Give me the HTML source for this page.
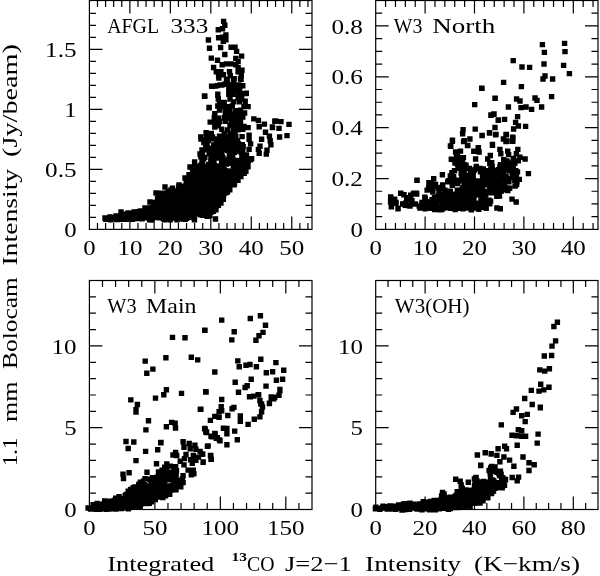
<!DOCTYPE html>
<html><head><meta charset="utf-8"><title>Bolocam vs 13CO intensity</title>
<style>html,body{margin:0;padding:0;background:#fff}body{width:600px;height:576px;overflow:hidden}svg{display:block;will-change:transform}text{font-family:"Liberation Serif", serif;fill:#000}</style>
</head><body>
<svg width="600" height="576" viewBox="0 0 600 576">
<rect width="600" height="576" fill="#fff"/>
<path d="M97.49 229.40v-6.5M97.49 0.50v6.5M105.59 229.40v-6.5M105.59 0.50v6.5M113.68 229.40v-6.5M113.68 0.50v6.5M121.78 229.40v-6.5M121.78 0.50v6.5M129.87 229.40v-13M129.87 0.50v13M137.97 229.40v-6.5M137.97 0.50v6.5M146.06 229.40v-6.5M146.06 0.50v6.5M154.16 229.40v-6.5M154.16 0.50v6.5M162.25 229.40v-6.5M162.25 0.50v6.5M170.35 229.40v-13M170.35 0.50v13M178.44 229.40v-6.5M178.44 0.50v6.5M186.53 229.40v-6.5M186.53 0.50v6.5M194.63 229.40v-6.5M194.63 0.50v6.5M202.72 229.40v-6.5M202.72 0.50v6.5M210.82 229.40v-13M210.82 0.50v13M218.91 229.40v-6.5M218.91 0.50v6.5M227.01 229.40v-6.5M227.01 0.50v6.5M235.10 229.40v-6.5M235.10 0.50v6.5M243.20 229.40v-6.5M243.20 0.50v6.5M251.29 229.40v-13M251.29 0.50v13M259.39 229.40v-6.5M259.39 0.50v6.5M267.48 229.40v-6.5M267.48 0.50v6.5M275.57 229.40v-6.5M275.57 0.50v6.5M283.67 229.40v-6.5M283.67 0.50v6.5M291.76 229.40v-13M291.76 0.50v13M299.86 229.40v-6.5M299.86 0.50v6.5M307.95 229.40v-6.5M307.95 0.50v6.5M89.40 217.40h6.5M312.00 217.40h-6.5M89.40 205.40h6.5M312.00 205.40h-6.5M89.40 193.40h6.5M312.00 193.40h-6.5M89.40 181.40h6.5M312.00 181.40h-6.5M89.40 169.40h13M312.00 169.40h-13M89.40 157.40h6.5M312.00 157.40h-6.5M89.40 145.40h6.5M312.00 145.40h-6.5M89.40 133.40h6.5M312.00 133.40h-6.5M89.40 121.40h6.5M312.00 121.40h-6.5M89.40 109.40h13M312.00 109.40h-13M89.40 97.40h6.5M312.00 97.40h-6.5M89.40 85.40h6.5M312.00 85.40h-6.5M89.40 73.40h6.5M312.00 73.40h-6.5M89.40 61.40h6.5M312.00 61.40h-6.5M89.40 49.40h13M312.00 49.40h-13M89.40 37.40h6.5M312.00 37.40h-6.5M89.40 25.40h6.5M312.00 25.40h-6.5M89.40 13.40h6.5M312.00 13.40h-6.5" fill="none" stroke="#000" stroke-width="1.2"/>
<rect x="89.40" y="0.50" width="222.60" height="228.90" fill="none" stroke="#000" stroke-width="1.2"/>
<text x="89.4" y="255.1" font-size="21.4" text-anchor="middle" textLength="12.4" lengthAdjust="spacingAndGlyphs">0</text>
<text x="129.9" y="255.1" font-size="21.4" text-anchor="middle" textLength="25.0" lengthAdjust="spacingAndGlyphs">10</text>
<text x="170.3" y="255.1" font-size="21.4" text-anchor="middle" textLength="25.0" lengthAdjust="spacingAndGlyphs">20</text>
<text x="210.8" y="255.1" font-size="21.4" text-anchor="middle" textLength="25.0" lengthAdjust="spacingAndGlyphs">30</text>
<text x="251.3" y="255.1" font-size="21.4" text-anchor="middle" textLength="25.0" lengthAdjust="spacingAndGlyphs">40</text>
<text x="291.8" y="255.1" font-size="21.4" text-anchor="middle" textLength="25.0" lengthAdjust="spacingAndGlyphs">50</text>
<text x="76.6" y="237.0" font-size="21.4" text-anchor="end" textLength="12.4" lengthAdjust="spacingAndGlyphs">0</text>
<text x="76.6" y="177.0" font-size="21.4" text-anchor="end" textLength="31.5" lengthAdjust="spacingAndGlyphs">0.5</text>
<text x="76.6" y="117.0" font-size="21.4" text-anchor="end" textLength="12.4" lengthAdjust="spacingAndGlyphs">1</text>
<text x="76.6" y="57.0" font-size="21.4" text-anchor="end" textLength="31.5" lengthAdjust="spacingAndGlyphs">1.5</text>
<text x="107.3" y="32.7" font-size="21.4" textLength="51.7" lengthAdjust="spacingAndGlyphs">AFGL</text>
<text x="170.5" y="32.7" font-size="21.4" textLength="37.8" lengthAdjust="spacingAndGlyphs">333</text>
<path d="M385.58 229.40v-6.5M385.58 0.50v6.5M395.46 229.40v-6.5M395.46 0.50v6.5M405.34 229.40v-6.5M405.34 0.50v6.5M415.22 229.40v-6.5M415.22 0.50v6.5M425.10 229.40v-13M425.10 0.50v13M434.98 229.40v-6.5M434.98 0.50v6.5M444.86 229.40v-6.5M444.86 0.50v6.5M454.74 229.40v-6.5M454.74 0.50v6.5M464.62 229.40v-6.5M464.62 0.50v6.5M474.50 229.40v-13M474.50 0.50v13M484.38 229.40v-6.5M484.38 0.50v6.5M494.26 229.40v-6.5M494.26 0.50v6.5M504.14 229.40v-6.5M504.14 0.50v6.5M514.02 229.40v-6.5M514.02 0.50v6.5M523.90 229.40v-13M523.90 0.50v13M533.78 229.40v-6.5M533.78 0.50v6.5M543.66 229.40v-6.5M543.66 0.50v6.5M553.54 229.40v-6.5M553.54 0.50v6.5M563.42 229.40v-6.5M563.42 0.50v6.5M573.30 229.40v-13M573.30 0.50v13M583.18 229.40v-6.5M583.18 0.50v6.5M593.06 229.40v-6.5M593.06 0.50v6.5M375.70 216.68h6.5M598.00 216.68h-6.5M375.70 203.97h6.5M598.00 203.97h-6.5M375.70 191.25h6.5M598.00 191.25h-6.5M375.70 178.53h13M598.00 178.53h-13M375.70 165.82h6.5M598.00 165.82h-6.5M375.70 153.10h6.5M598.00 153.10h-6.5M375.70 140.38h6.5M598.00 140.38h-6.5M375.70 127.67h13M598.00 127.67h-13M375.70 114.95h6.5M598.00 114.95h-6.5M375.70 102.23h6.5M598.00 102.23h-6.5M375.70 89.52h6.5M598.00 89.52h-6.5M375.70 76.80h13M598.00 76.80h-13M375.70 64.08h6.5M598.00 64.08h-6.5M375.70 51.37h6.5M598.00 51.37h-6.5M375.70 38.65h6.5M598.00 38.65h-6.5M375.70 25.93h13M598.00 25.93h-13M375.70 13.22h6.5M598.00 13.22h-6.5" fill="none" stroke="#000" stroke-width="1.2"/>
<rect x="375.70" y="0.50" width="222.30" height="228.90" fill="none" stroke="#000" stroke-width="1.2"/>
<text x="375.7" y="255.1" font-size="21.4" text-anchor="middle" textLength="12.4" lengthAdjust="spacingAndGlyphs">0</text>
<text x="425.1" y="255.1" font-size="21.4" text-anchor="middle" textLength="25.0" lengthAdjust="spacingAndGlyphs">10</text>
<text x="474.5" y="255.1" font-size="21.4" text-anchor="middle" textLength="25.0" lengthAdjust="spacingAndGlyphs">20</text>
<text x="523.9" y="255.1" font-size="21.4" text-anchor="middle" textLength="25.0" lengthAdjust="spacingAndGlyphs">30</text>
<text x="573.3" y="255.1" font-size="21.4" text-anchor="middle" textLength="25.0" lengthAdjust="spacingAndGlyphs">40</text>
<text x="362.9" y="237.0" font-size="21.4" text-anchor="end" textLength="12.4" lengthAdjust="spacingAndGlyphs">0</text>
<text x="362.9" y="186.1" font-size="21.4" text-anchor="end" textLength="31.5" lengthAdjust="spacingAndGlyphs">0.2</text>
<text x="362.9" y="135.3" font-size="21.4" text-anchor="end" textLength="31.5" lengthAdjust="spacingAndGlyphs">0.4</text>
<text x="362.9" y="84.4" font-size="21.4" text-anchor="end" textLength="31.5" lengthAdjust="spacingAndGlyphs">0.6</text>
<text x="362.9" y="33.5" font-size="21.4" text-anchor="end" textLength="31.5" lengthAdjust="spacingAndGlyphs">0.8</text>
<text x="393.8" y="32.7" font-size="21.4" textLength="28.5" lengthAdjust="spacingAndGlyphs">W3</text>
<text x="432.3" y="32.7" font-size="21.4" textLength="63.0" lengthAdjust="spacingAndGlyphs">North</text>
<path d="M102.49 509.50v-6.5M102.49 280.50v6.5M115.59 509.50v-6.5M115.59 280.50v6.5M128.68 509.50v-6.5M128.68 280.50v6.5M141.78 509.50v-6.5M141.78 280.50v6.5M154.87 509.50v-13M154.87 280.50v13M167.96 509.50v-6.5M167.96 280.50v6.5M181.06 509.50v-6.5M181.06 280.50v6.5M194.15 509.50v-6.5M194.15 280.50v6.5M207.25 509.50v-6.5M207.25 280.50v6.5M220.34 509.50v-13M220.34 280.50v13M233.44 509.50v-6.5M233.44 280.50v6.5M246.53 509.50v-6.5M246.53 280.50v6.5M259.62 509.50v-6.5M259.62 280.50v6.5M272.72 509.50v-6.5M272.72 280.50v6.5M285.81 509.50v-13M285.81 280.50v13M298.91 509.50v-6.5M298.91 280.50v6.5M89.40 493.14h6.5M312.00 493.14h-6.5M89.40 476.79h6.5M312.00 476.79h-6.5M89.40 460.43h6.5M312.00 460.43h-6.5M89.40 444.07h6.5M312.00 444.07h-6.5M89.40 427.71h13M312.00 427.71h-13M89.40 411.36h6.5M312.00 411.36h-6.5M89.40 395.00h6.5M312.00 395.00h-6.5M89.40 378.64h6.5M312.00 378.64h-6.5M89.40 362.29h6.5M312.00 362.29h-6.5M89.40 345.93h13M312.00 345.93h-13M89.40 329.57h6.5M312.00 329.57h-6.5M89.40 313.21h6.5M312.00 313.21h-6.5M89.40 296.86h6.5M312.00 296.86h-6.5" fill="none" stroke="#000" stroke-width="1.2"/>
<rect x="89.40" y="280.50" width="222.60" height="229.00" fill="none" stroke="#000" stroke-width="1.2"/>
<text x="89.4" y="535.2" font-size="21.4" text-anchor="middle" textLength="12.4" lengthAdjust="spacingAndGlyphs">0</text>
<text x="154.9" y="535.2" font-size="21.4" text-anchor="middle" textLength="25.0" lengthAdjust="spacingAndGlyphs">50</text>
<text x="220.3" y="535.2" font-size="21.4" text-anchor="middle" textLength="37.6" lengthAdjust="spacingAndGlyphs">100</text>
<text x="285.8" y="535.2" font-size="21.4" text-anchor="middle" textLength="37.6" lengthAdjust="spacingAndGlyphs">150</text>
<text x="76.6" y="517.1" font-size="21.4" text-anchor="end" textLength="12.4" lengthAdjust="spacingAndGlyphs">0</text>
<text x="76.6" y="435.3" font-size="21.4" text-anchor="end" textLength="12.4" lengthAdjust="spacingAndGlyphs">5</text>
<text x="76.6" y="353.5" font-size="21.4" text-anchor="end" textLength="25.0" lengthAdjust="spacingAndGlyphs">10</text>
<text x="107.3" y="312.7" font-size="21.4" textLength="29.2" lengthAdjust="spacingAndGlyphs">W3</text>
<text x="146.1" y="312.7" font-size="21.4" textLength="50.4" lengthAdjust="spacingAndGlyphs">Main</text>
<path d="M388.05 509.50v-6.5M388.05 280.50v6.5M400.40 509.50v-6.5M400.40 280.50v6.5M412.75 509.50v-6.5M412.75 280.50v6.5M425.10 509.50v-13M425.10 280.50v13M437.45 509.50v-6.5M437.45 280.50v6.5M449.80 509.50v-6.5M449.80 280.50v6.5M462.15 509.50v-6.5M462.15 280.50v6.5M474.50 509.50v-13M474.50 280.50v13M486.85 509.50v-6.5M486.85 280.50v6.5M499.20 509.50v-6.5M499.20 280.50v6.5M511.55 509.50v-6.5M511.55 280.50v6.5M523.90 509.50v-13M523.90 280.50v13M536.25 509.50v-6.5M536.25 280.50v6.5M548.60 509.50v-6.5M548.60 280.50v6.5M560.95 509.50v-6.5M560.95 280.50v6.5M573.30 509.50v-13M573.30 280.50v13M585.65 509.50v-6.5M585.65 280.50v6.5M375.70 493.14h6.5M598.00 493.14h-6.5M375.70 476.79h6.5M598.00 476.79h-6.5M375.70 460.43h6.5M598.00 460.43h-6.5M375.70 444.07h6.5M598.00 444.07h-6.5M375.70 427.71h13M598.00 427.71h-13M375.70 411.36h6.5M598.00 411.36h-6.5M375.70 395.00h6.5M598.00 395.00h-6.5M375.70 378.64h6.5M598.00 378.64h-6.5M375.70 362.29h6.5M598.00 362.29h-6.5M375.70 345.93h13M598.00 345.93h-13M375.70 329.57h6.5M598.00 329.57h-6.5M375.70 313.21h6.5M598.00 313.21h-6.5M375.70 296.86h6.5M598.00 296.86h-6.5" fill="none" stroke="#000" stroke-width="1.2"/>
<rect x="375.70" y="280.50" width="222.30" height="229.00" fill="none" stroke="#000" stroke-width="1.2"/>
<text x="375.7" y="535.2" font-size="21.4" text-anchor="middle" textLength="12.4" lengthAdjust="spacingAndGlyphs">0</text>
<text x="425.1" y="535.2" font-size="21.4" text-anchor="middle" textLength="25.0" lengthAdjust="spacingAndGlyphs">20</text>
<text x="474.5" y="535.2" font-size="21.4" text-anchor="middle" textLength="25.0" lengthAdjust="spacingAndGlyphs">40</text>
<text x="523.9" y="535.2" font-size="21.4" text-anchor="middle" textLength="25.0" lengthAdjust="spacingAndGlyphs">60</text>
<text x="573.3" y="535.2" font-size="21.4" text-anchor="middle" textLength="25.0" lengthAdjust="spacingAndGlyphs">80</text>
<text x="362.9" y="517.1" font-size="21.4" text-anchor="end" textLength="12.4" lengthAdjust="spacingAndGlyphs">0</text>
<text x="362.9" y="435.3" font-size="21.4" text-anchor="end" textLength="12.4" lengthAdjust="spacingAndGlyphs">5</text>
<text x="362.9" y="353.5" font-size="21.4" text-anchor="end" textLength="25.0" lengthAdjust="spacingAndGlyphs">10</text>
<text x="394.8" y="312.7" font-size="21.4" textLength="74.7" lengthAdjust="spacingAndGlyphs">W3(OH)</text>
<text x="107.3" y="570.8" font-size="21.4" textLength="107.0" lengthAdjust="spacingAndGlyphs">Integrated</text>
<text x="231.5" y="560.8" font-size="12.5" textLength="15.5" lengthAdjust="spacingAndGlyphs" font-weight="bold">13</text>
<text x="247.0" y="570.8" font-size="21.4" textLength="27.5" lengthAdjust="spacingAndGlyphs">CO</text>
<text x="285.0" y="570.8" font-size="21.4" textLength="66.7" lengthAdjust="spacingAndGlyphs">J=2−1</text>
<text x="365.0" y="570.8" font-size="21.4" textLength="96.0" lengthAdjust="spacingAndGlyphs">Intensity</text>
<text x="474.0" y="570.8" font-size="21.4" textLength="106.0" lengthAdjust="spacingAndGlyphs">(K−km/s)</text>
<g transform="translate(17.2 0) rotate(-90)">
<text x="-466.0" y="0.0" font-size="21.4" textLength="28.4" lengthAdjust="spacingAndGlyphs">1.1</text>
<text x="-422.0" y="0.0" font-size="21.4" textLength="40.5" lengthAdjust="spacingAndGlyphs">mm</text>
<text x="-369.0" y="0.0" font-size="21.4" textLength="91.7" lengthAdjust="spacingAndGlyphs">Bolocam</text>
<text x="-265.6" y="0.0" font-size="21.4" textLength="96.8" lengthAdjust="spacingAndGlyphs">Intensity</text>
<text x="-157.0" y="0.0" font-size="21.4" textLength="113.0" lengthAdjust="spacingAndGlyphs">(Jy/beam)</text>
</g>
<path d="M220.9 18.7h5.4v5.4h-5.4zM222.1 22.5h5.4v5.4h-5.4zM215.6 27.1h5.4v5.4h-5.4zM219.8 26.1h5.4v5.4h-5.4zM223.2 32.3h5.4v5.4h-5.4zM215.9 35.1h5.4v5.4h-5.4zM219.8 34.6h5.4v5.4h-5.4zM223.2 37.0h5.4v5.4h-5.4zM220.6 38.5h5.4v5.4h-5.4zM205.7 37.3h5.4v5.4h-5.4zM206.8 45.6h5.4v5.4h-5.4zM217.9 44.8h5.4v5.4h-5.4zM228.4 44.5h5.4v5.4h-5.4zM232.3 44.5h5.4v5.4h-5.4zM233.9 48.7h5.4v5.4h-5.4zM222.1 51.8h5.4v5.4h-5.4zM238.9 53.4h5.4v5.4h-5.4zM208.6 55.4h5.4v5.4h-5.4zM214.8 57.6h5.4v5.4h-5.4zM233.1 55.7h5.4v5.4h-5.4zM235.4 58.9h5.4v5.4h-5.4zM219.5 62.0h5.4v5.4h-5.4zM223.7 61.2h5.4v5.4h-5.4zM228.4 61.2h5.4v5.4h-5.4zM233.1 62.0h5.4v5.4h-5.4zM210.9 64.8h5.4v5.4h-5.4zM235.4 65.1h5.4v5.4h-5.4zM239.3 67.5h5.4v5.4h-5.4zM213.6 69.0h5.4v5.4h-5.4zM218.2 69.0h5.4v5.4h-5.4zM226.8 69.0h5.4v5.4h-5.4zM235.4 69.0h5.4v5.4h-5.4zM215.9 73.2h5.4v5.4h-5.4zM220.6 72.1h5.4v5.4h-5.4zM227.6 72.9h5.4v5.4h-5.4zM238.6 72.9h5.4v5.4h-5.4zM224.5 76.8h5.4v5.4h-5.4zM231.5 76.0h5.4v5.4h-5.4zM237.8 76.0h5.4v5.4h-5.4zM208.9 83.4h5.4v5.4h-5.4zM212.8 83.4h5.4v5.4h-5.4zM217.5 82.3h5.4v5.4h-5.4zM222.1 81.5h5.4v5.4h-5.4zM226.1 83.9h5.4v5.4h-5.4zM230.7 80.7h5.4v5.4h-5.4zM235.4 82.3h5.4v5.4h-5.4zM240.1 83.1h5.4v5.4h-5.4zM227.6 87.8h5.4v5.4h-5.4zM232.3 87.0h5.4v5.4h-5.4zM237.0 87.0h5.4v5.4h-5.4zM201.8 93.2h5.4v5.4h-5.4zM215.1 92.5h5.4v5.4h-5.4zM226.1 91.7h5.4v5.4h-5.4zM230.7 91.7h5.4v5.4h-5.4zM236.2 90.9h5.4v5.4h-5.4zM243.2 90.9h5.4v5.4h-5.4zM201.8 93.5h5.4v5.4h-5.4zM206.5 104.8h5.4v5.4h-5.4zM251.1 116.2h5.4v5.4h-5.4zM255.7 117.8h5.4v5.4h-5.4zM256.5 124.0h5.4v5.4h-5.4zM261.7 121.4h5.4v5.4h-5.4zM269.8 124.8h5.4v5.4h-5.4zM272.1 118.5h5.4v5.4h-5.4zM262.8 129.5h5.4v5.4h-5.4zM266.7 133.4h5.4v5.4h-5.4zM258.9 136.5h5.4v5.4h-5.4zM267.5 138.1h5.4v5.4h-5.4zM268.2 142.0h5.4v5.4h-5.4zM257.3 143.6h5.4v5.4h-5.4zM255.7 146.7h5.4v5.4h-5.4zM264.3 147.5h5.4v5.4h-5.4zM263.6 151.4h5.4v5.4h-5.4zM256.5 150.6h5.4v5.4h-5.4zM246.4 132.6h5.4v5.4h-5.4zM246.4 136.5h5.4v5.4h-5.4zM247.9 141.2h5.4v5.4h-5.4zM246.4 146.7h5.4v5.4h-5.4zM272.9 118.3h5.4v5.4h-5.4zM278.3 118.9h5.4v5.4h-5.4zM286.3 121.7h5.4v5.4h-5.4zM269.7 124.3h5.4v5.4h-5.4zM276.3 125.7h5.4v5.4h-5.4zM276.9 134.3h5.4v5.4h-5.4zM284.3 132.9h5.4v5.4h-5.4zM212.8 216.3h5.4v5.4h-5.4zM216.2 75.3h5.4v5.4h-5.4zM223.8 76.5h5.4v5.4h-5.4zM230.8 77.1h5.4v5.4h-5.4zM238.4 76.5h5.4v5.4h-5.4zM209.8 83.5h5.4v5.4h-5.4zM214.5 82.9h5.4v5.4h-5.4zM219.1 82.3h5.4v5.4h-5.4zM227.3 82.3h5.4v5.4h-5.4zM232.0 82.9h5.4v5.4h-5.4zM236.1 82.3h5.4v5.4h-5.4zM240.1 82.9h5.4v5.4h-5.4zM226.1 87.0h5.4v5.4h-5.4zM230.8 87.0h5.4v5.4h-5.4zM234.3 87.6h5.4v5.4h-5.4zM202.2 93.7h5.4v5.4h-5.4zM215.1 91.6h5.4v5.4h-5.4zM226.1 91.6h5.4v5.4h-5.4zM229.6 91.1h5.4v5.4h-5.4zM239.0 91.1h5.4v5.4h-5.4zM243.6 90.5h5.4v5.4h-5.4zM215.6 96.3h5.4v5.4h-5.4zM227.3 96.3h5.4v5.4h-5.4zM235.5 95.7h5.4v5.4h-5.4zM239.0 96.3h5.4v5.4h-5.4zM216.8 99.8h5.4v5.4h-5.4zM221.5 99.8h5.4v5.4h-5.4zM230.8 99.2h5.4v5.4h-5.4zM236.6 99.2h5.4v5.4h-5.4zM242.5 98.6h5.4v5.4h-5.4zM206.3 105.1h5.4v5.4h-5.4zM215.1 103.3h5.4v5.4h-5.4zM219.7 103.9h5.4v5.4h-5.4zM225.0 103.9h5.4v5.4h-5.4zM229.6 103.3h5.4v5.4h-5.4zM241.3 103.9h5.4v5.4h-5.4zM245.4 103.9h5.4v5.4h-5.4zM216.8 107.4h5.4v5.4h-5.4zM222.6 108.0h5.4v5.4h-5.4zM227.3 107.4h5.4v5.4h-5.4zM233.1 108.0h5.4v5.4h-5.4zM237.8 107.4h5.4v5.4h-5.4zM212.1 110.9h5.4v5.4h-5.4zM222.6 111.5h5.4v5.4h-5.4zM227.3 110.9h5.4v5.4h-5.4zM232.0 111.5h5.4v5.4h-5.4zM236.6 110.9h5.4v5.4h-5.4zM241.9 110.3h5.4v5.4h-5.4zM211.6 115.0h5.4v5.4h-5.4zM215.6 115.6h5.4v5.4h-5.4zM221.5 115.0h5.4v5.4h-5.4zM226.1 115.6h5.4v5.4h-5.4zM230.8 115.0h5.4v5.4h-5.4zM235.5 115.0h5.4v5.4h-5.4zM240.1 114.4h5.4v5.4h-5.4zM207.5 119.4h5.4v5.4h-5.4zM212.1 119.1h5.4v5.4h-5.4zM216.8 119.1h5.4v5.4h-5.4zM222.6 118.5h5.4v5.4h-5.4zM228.5 119.1h5.4v5.4h-5.4zM233.1 118.5h5.4v5.4h-5.4zM237.8 119.1h5.4v5.4h-5.4zM212.1 124.3h5.4v5.4h-5.4zM215.6 123.1h5.4v5.4h-5.4zM227.3 122.6h5.4v5.4h-5.4zM232.0 123.1h5.4v5.4h-5.4zM236.6 123.1h5.4v5.4h-5.4zM241.3 123.7h5.4v5.4h-5.4zM245.4 124.9h5.4v5.4h-5.4zM219.1 126.6h5.4v5.4h-5.4zM225.0 127.2h5.4v5.4h-5.4zM230.8 126.6h5.4v5.4h-5.4zM235.5 127.2h5.4v5.4h-5.4zM240.1 126.6h5.4v5.4h-5.4zM203.4 130.1h5.4v5.4h-5.4zM208.6 130.7h5.4v5.4h-5.4zM221.5 130.7h5.4v5.4h-5.4zM227.3 131.3h5.4v5.4h-5.4zM232.0 130.7h5.4v5.4h-5.4zM198.1 134.2h5.4v5.4h-5.4zM204.0 133.6h5.4v5.4h-5.4zM209.8 134.2h5.4v5.4h-5.4zM216.8 133.6h5.4v5.4h-5.4zM222.6 134.2h5.4v5.4h-5.4zM228.5 134.2h5.4v5.4h-5.4zM233.1 133.6h5.4v5.4h-5.4zM208.4 134.0h5.4v5.4h-5.4zM217.8 135.1h5.4v5.4h-5.4zM221.2 135.0h5.4v5.4h-5.4zM226.6 134.8h5.4v5.4h-5.4zM230.5 133.7h5.4v5.4h-5.4zM239.4 133.9h5.4v5.4h-5.4zM202.5 137.3h5.4v5.4h-5.4zM205.7 137.9h5.4v5.4h-5.4zM209.1 135.6h5.4v5.4h-5.4zM210.7 136.2h5.4v5.4h-5.4zM213.7 136.8h5.4v5.4h-5.4zM216.2 136.2h5.4v5.4h-5.4zM219.6 137.7h5.4v5.4h-5.4zM222.3 137.9h5.4v5.4h-5.4zM224.3 135.9h5.4v5.4h-5.4zM226.8 137.0h5.4v5.4h-5.4zM230.7 136.7h5.4v5.4h-5.4zM233.0 136.9h5.4v5.4h-5.4zM201.2 139.9h5.4v5.4h-5.4zM204.4 139.3h5.4v5.4h-5.4zM214.1 139.9h5.4v5.4h-5.4zM216.3 139.2h5.4v5.4h-5.4zM218.7 140.7h5.4v5.4h-5.4zM220.8 140.5h5.4v5.4h-5.4zM224.8 140.2h5.4v5.4h-5.4zM227.8 140.4h5.4v5.4h-5.4zM230.2 140.1h5.4v5.4h-5.4zM232.8 138.3h5.4v5.4h-5.4zM234.8 138.1h5.4v5.4h-5.4zM203.7 142.7h5.4v5.4h-5.4zM204.2 143.1h5.4v5.4h-5.4zM211.1 142.3h5.4v5.4h-5.4zM213.6 142.8h5.4v5.4h-5.4zM215.3 143.3h5.4v5.4h-5.4zM219.7 140.9h5.4v5.4h-5.4zM220.8 141.9h5.4v5.4h-5.4zM223.1 142.2h5.4v5.4h-5.4zM225.7 142.6h5.4v5.4h-5.4zM229.8 141.8h5.4v5.4h-5.4zM231.4 141.7h5.4v5.4h-5.4zM235.8 141.0h5.4v5.4h-5.4zM238.4 142.4h5.4v5.4h-5.4zM239.6 141.9h5.4v5.4h-5.4zM203.1 145.3h5.4v5.4h-5.4zM205.0 145.6h5.4v5.4h-5.4zM208.8 145.6h5.4v5.4h-5.4zM211.6 146.0h5.4v5.4h-5.4zM213.4 145.3h5.4v5.4h-5.4zM215.8 144.6h5.4v5.4h-5.4zM219.3 146.1h5.4v5.4h-5.4zM220.5 144.0h5.4v5.4h-5.4zM223.6 146.0h5.4v5.4h-5.4zM226.3 143.8h5.4v5.4h-5.4zM230.2 144.0h5.4v5.4h-5.4zM232.1 145.0h5.4v5.4h-5.4zM233.7 143.8h5.4v5.4h-5.4zM236.9 144.1h5.4v5.4h-5.4zM240.5 144.1h5.4v5.4h-5.4zM202.8 147.0h5.4v5.4h-5.4zM205.3 147.0h5.4v5.4h-5.4zM207.6 147.9h5.4v5.4h-5.4zM209.8 148.1h5.4v5.4h-5.4zM214.5 147.7h5.4v5.4h-5.4zM215.6 148.3h5.4v5.4h-5.4zM217.8 146.4h5.4v5.4h-5.4zM221.9 146.7h5.4v5.4h-5.4zM225.0 147.7h5.4v5.4h-5.4zM226.1 146.6h5.4v5.4h-5.4zM229.3 146.4h5.4v5.4h-5.4zM232.0 147.5h5.4v5.4h-5.4zM235.6 148.3h5.4v5.4h-5.4zM237.2 147.3h5.4v5.4h-5.4zM240.0 148.0h5.4v5.4h-5.4zM199.6 150.5h5.4v5.4h-5.4zM206.5 151.1h5.4v5.4h-5.4zM207.7 150.0h5.4v5.4h-5.4zM211.7 150.3h5.4v5.4h-5.4zM213.1 151.3h5.4v5.4h-5.4zM214.8 150.8h5.4v5.4h-5.4zM219.3 150.5h5.4v5.4h-5.4zM226.5 149.0h5.4v5.4h-5.4zM229.6 149.5h5.4v5.4h-5.4zM231.9 149.5h5.4v5.4h-5.4zM238.6 150.0h5.4v5.4h-5.4zM239.6 150.8h5.4v5.4h-5.4zM198.1 154.2h5.4v5.4h-5.4zM199.7 153.6h5.4v5.4h-5.4zM208.3 153.6h5.4v5.4h-5.4zM210.6 153.8h5.4v5.4h-5.4zM213.4 154.1h5.4v5.4h-5.4zM216.7 152.0h5.4v5.4h-5.4zM218.0 152.7h5.4v5.4h-5.4zM226.8 151.7h5.4v5.4h-5.4zM230.1 153.1h5.4v5.4h-5.4zM241.4 153.1h5.4v5.4h-5.4zM243.8 152.2h5.4v5.4h-5.4zM200.9 156.2h5.4v5.4h-5.4zM202.1 154.7h5.4v5.4h-5.4zM209.0 154.4h5.4v5.4h-5.4zM210.3 154.5h5.4v5.4h-5.4zM214.8 155.3h5.4v5.4h-5.4zM217.5 154.7h5.4v5.4h-5.4zM220.2 155.1h5.4v5.4h-5.4zM226.2 156.2h5.4v5.4h-5.4zM228.6 154.8h5.4v5.4h-5.4zM239.1 155.9h5.4v5.4h-5.4zM243.8 156.8h5.4v5.4h-5.4zM246.1 156.7h5.4v5.4h-5.4zM248.9 156.0h5.4v5.4h-5.4zM199.3 158.9h5.4v5.4h-5.4zM208.1 158.0h5.4v5.4h-5.4zM211.2 158.4h5.4v5.4h-5.4zM220.4 158.2h5.4v5.4h-5.4zM224.0 157.4h5.4v5.4h-5.4zM227.8 157.1h5.4v5.4h-5.4zM229.5 159.1h5.4v5.4h-5.4zM232.8 157.7h5.4v5.4h-5.4zM234.4 157.9h5.4v5.4h-5.4zM238.5 159.2h5.4v5.4h-5.4zM240.1 158.8h5.4v5.4h-5.4zM243.9 159.1h5.4v5.4h-5.4zM245.4 158.7h5.4v5.4h-5.4zM247.6 157.0h5.4v5.4h-5.4zM199.8 159.7h5.4v5.4h-5.4zM206.0 161.8h5.4v5.4h-5.4zM207.6 161.8h5.4v5.4h-5.4zM211.3 162.3h5.4v5.4h-5.4zM218.9 160.3h5.4v5.4h-5.4zM221.1 161.4h5.4v5.4h-5.4zM223.7 161.4h5.4v5.4h-5.4zM228.4 160.6h5.4v5.4h-5.4zM231.4 161.6h5.4v5.4h-5.4zM235.4 160.2h5.4v5.4h-5.4zM236.7 160.6h5.4v5.4h-5.4zM239.0 161.0h5.4v5.4h-5.4zM242.5 161.1h5.4v5.4h-5.4zM244.9 162.0h5.4v5.4h-5.4zM189.1 164.4h5.4v5.4h-5.4zM191.0 164.5h5.4v5.4h-5.4zM195.1 163.8h5.4v5.4h-5.4zM197.9 162.8h5.4v5.4h-5.4zM198.8 162.5h5.4v5.4h-5.4zM203.4 164.6h5.4v5.4h-5.4zM204.4 163.4h5.4v5.4h-5.4zM208.2 164.7h5.4v5.4h-5.4zM211.9 162.9h5.4v5.4h-5.4zM214.3 164.3h5.4v5.4h-5.4zM216.4 163.5h5.4v5.4h-5.4zM218.3 163.2h5.4v5.4h-5.4zM220.8 164.0h5.4v5.4h-5.4zM230.6 164.0h5.4v5.4h-5.4zM231.4 165.0h5.4v5.4h-5.4zM235.5 163.3h5.4v5.4h-5.4zM237.4 162.8h5.4v5.4h-5.4zM240.1 164.5h5.4v5.4h-5.4zM242.9 163.7h5.4v5.4h-5.4zM245.3 164.2h5.4v5.4h-5.4zM189.7 165.4h5.4v5.4h-5.4zM190.4 167.3h5.4v5.4h-5.4zM195.4 165.2h5.4v5.4h-5.4zM197.2 166.5h5.4v5.4h-5.4zM200.6 165.9h5.4v5.4h-5.4zM201.5 166.6h5.4v5.4h-5.4zM204.1 166.4h5.4v5.4h-5.4zM208.6 165.7h5.4v5.4h-5.4zM209.4 165.7h5.4v5.4h-5.4zM213.5 166.3h5.4v5.4h-5.4zM215.0 167.3h5.4v5.4h-5.4zM219.9 166.5h5.4v5.4h-5.4zM221.7 167.3h5.4v5.4h-5.4zM231.2 165.9h5.4v5.4h-5.4zM235.3 167.3h5.4v5.4h-5.4zM237.4 165.3h5.4v5.4h-5.4zM239.3 167.5h5.4v5.4h-5.4zM243.0 166.8h5.4v5.4h-5.4zM190.1 168.0h5.4v5.4h-5.4zM191.5 169.8h5.4v5.4h-5.4zM194.3 168.9h5.4v5.4h-5.4zM196.6 169.7h5.4v5.4h-5.4zM198.8 170.0h5.4v5.4h-5.4zM202.6 168.1h5.4v5.4h-5.4zM204.7 170.3h5.4v5.4h-5.4zM209.0 168.3h5.4v5.4h-5.4zM210.7 170.0h5.4v5.4h-5.4zM214.3 169.0h5.4v5.4h-5.4zM215.8 168.8h5.4v5.4h-5.4zM219.8 169.1h5.4v5.4h-5.4zM221.1 169.8h5.4v5.4h-5.4zM224.7 168.2h5.4v5.4h-5.4zM226.0 168.7h5.4v5.4h-5.4zM229.1 169.3h5.4v5.4h-5.4zM231.9 169.3h5.4v5.4h-5.4zM234.5 169.3h5.4v5.4h-5.4zM238.8 168.7h5.4v5.4h-5.4zM239.6 168.5h5.4v5.4h-5.4zM243.2 168.5h5.4v5.4h-5.4zM186.3 172.0h5.4v5.4h-5.4zM188.3 173.0h5.4v5.4h-5.4zM192.8 172.2h5.4v5.4h-5.4zM195.4 170.8h5.4v5.4h-5.4zM196.1 173.1h5.4v5.4h-5.4zM200.8 170.7h5.4v5.4h-5.4zM201.4 170.6h5.4v5.4h-5.4zM206.5 172.3h5.4v5.4h-5.4zM208.6 171.9h5.4v5.4h-5.4zM210.7 171.0h5.4v5.4h-5.4zM212.9 171.8h5.4v5.4h-5.4zM216.5 171.6h5.4v5.4h-5.4zM217.6 171.8h5.4v5.4h-5.4zM222.6 172.0h5.4v5.4h-5.4zM223.6 171.4h5.4v5.4h-5.4zM227.9 173.0h5.4v5.4h-5.4zM230.6 172.7h5.4v5.4h-5.4zM231.0 171.8h5.4v5.4h-5.4zM235.4 172.1h5.4v5.4h-5.4zM238.7 170.7h5.4v5.4h-5.4zM241.5 170.6h5.4v5.4h-5.4zM187.5 175.6h5.4v5.4h-5.4zM190.1 173.6h5.4v5.4h-5.4zM192.9 173.7h5.4v5.4h-5.4zM194.9 175.5h5.4v5.4h-5.4zM198.3 174.4h5.4v5.4h-5.4zM198.8 173.9h5.4v5.4h-5.4zM201.4 173.7h5.4v5.4h-5.4zM204.0 174.0h5.4v5.4h-5.4zM206.9 174.6h5.4v5.4h-5.4zM210.8 175.2h5.4v5.4h-5.4zM214.5 173.4h5.4v5.4h-5.4zM214.9 174.0h5.4v5.4h-5.4zM219.8 174.5h5.4v5.4h-5.4zM221.0 174.7h5.4v5.4h-5.4zM224.9 175.7h5.4v5.4h-5.4zM227.1 175.4h5.4v5.4h-5.4zM228.7 175.7h5.4v5.4h-5.4zM231.0 175.2h5.4v5.4h-5.4zM233.7 173.6h5.4v5.4h-5.4zM238.2 173.8h5.4v5.4h-5.4zM184.5 178.0h5.4v5.4h-5.4zM187.4 177.7h5.4v5.4h-5.4zM189.6 178.0h5.4v5.4h-5.4zM190.9 178.0h5.4v5.4h-5.4zM193.7 178.3h5.4v5.4h-5.4zM197.1 176.8h5.4v5.4h-5.4zM200.1 178.3h5.4v5.4h-5.4zM202.9 176.1h5.4v5.4h-5.4zM204.2 178.5h5.4v5.4h-5.4zM207.4 176.4h5.4v5.4h-5.4zM211.3 178.5h5.4v5.4h-5.4zM212.3 177.8h5.4v5.4h-5.4zM217.0 177.9h5.4v5.4h-5.4zM219.7 177.4h5.4v5.4h-5.4zM221.8 177.2h5.4v5.4h-5.4zM223.7 176.0h5.4v5.4h-5.4zM227.6 176.5h5.4v5.4h-5.4zM230.2 177.7h5.4v5.4h-5.4zM231.7 176.6h5.4v5.4h-5.4zM235.3 177.7h5.4v5.4h-5.4zM183.5 178.6h5.4v5.4h-5.4zM186.0 179.8h5.4v5.4h-5.4zM190.2 180.8h5.4v5.4h-5.4zM191.9 179.4h5.4v5.4h-5.4zM193.4 179.4h5.4v5.4h-5.4zM198.1 179.9h5.4v5.4h-5.4zM199.5 180.9h5.4v5.4h-5.4zM203.3 180.4h5.4v5.4h-5.4zM204.9 179.7h5.4v5.4h-5.4zM207.4 180.2h5.4v5.4h-5.4zM210.1 180.6h5.4v5.4h-5.4zM213.2 180.9h5.4v5.4h-5.4zM215.7 180.9h5.4v5.4h-5.4zM219.4 179.6h5.4v5.4h-5.4zM222.0 179.4h5.4v5.4h-5.4zM225.3 180.3h5.4v5.4h-5.4zM226.6 180.3h5.4v5.4h-5.4zM230.2 180.0h5.4v5.4h-5.4zM231.8 180.5h5.4v5.4h-5.4zM180.5 183.6h5.4v5.4h-5.4zM183.5 182.1h5.4v5.4h-5.4zM187.1 182.8h5.4v5.4h-5.4zM190.3 181.9h5.4v5.4h-5.4zM192.0 181.7h5.4v5.4h-5.4zM194.0 182.4h5.4v5.4h-5.4zM198.0 183.7h5.4v5.4h-5.4zM198.9 182.2h5.4v5.4h-5.4zM201.8 183.6h5.4v5.4h-5.4zM204.5 182.2h5.4v5.4h-5.4zM208.5 181.4h5.4v5.4h-5.4zM209.5 183.5h5.4v5.4h-5.4zM213.5 181.5h5.4v5.4h-5.4zM215.6 183.9h5.4v5.4h-5.4zM219.6 181.5h5.4v5.4h-5.4zM220.2 183.1h5.4v5.4h-5.4zM223.5 183.0h5.4v5.4h-5.4zM226.3 182.5h5.4v5.4h-5.4zM229.7 182.2h5.4v5.4h-5.4zM231.5 182.1h5.4v5.4h-5.4zM169.7 185.5h5.4v5.4h-5.4zM175.9 184.6h5.4v5.4h-5.4zM178.9 184.9h5.4v5.4h-5.4zM181.1 184.3h5.4v5.4h-5.4zM183.0 186.1h5.4v5.4h-5.4zM187.0 184.1h5.4v5.4h-5.4zM189.8 184.4h5.4v5.4h-5.4zM190.5 184.4h5.4v5.4h-5.4zM195.6 184.8h5.4v5.4h-5.4zM198.0 184.5h5.4v5.4h-5.4zM200.1 186.4h5.4v5.4h-5.4zM202.7 185.0h5.4v5.4h-5.4zM204.6 185.9h5.4v5.4h-5.4zM207.9 186.5h5.4v5.4h-5.4zM210.0 186.4h5.4v5.4h-5.4zM212.2 184.5h5.4v5.4h-5.4zM215.5 186.2h5.4v5.4h-5.4zM219.9 185.7h5.4v5.4h-5.4zM221.1 185.9h5.4v5.4h-5.4zM223.0 185.3h5.4v5.4h-5.4zM226.9 184.1h5.4v5.4h-5.4zM165.4 188.7h5.4v5.4h-5.4zM168.5 187.2h5.4v5.4h-5.4zM171.0 188.7h5.4v5.4h-5.4zM174.0 188.6h5.4v5.4h-5.4zM175.1 188.3h5.4v5.4h-5.4zM179.2 188.2h5.4v5.4h-5.4zM182.2 188.9h5.4v5.4h-5.4zM184.8 187.1h5.4v5.4h-5.4zM186.5 187.0h5.4v5.4h-5.4zM187.9 188.3h5.4v5.4h-5.4zM191.2 188.3h5.4v5.4h-5.4zM194.3 188.9h5.4v5.4h-5.4zM196.5 187.7h5.4v5.4h-5.4zM199.0 188.9h5.4v5.4h-5.4zM202.6 187.6h5.4v5.4h-5.4zM203.9 186.7h5.4v5.4h-5.4zM207.3 189.3h5.4v5.4h-5.4zM209.5 188.6h5.4v5.4h-5.4zM213.3 188.6h5.4v5.4h-5.4zM217.1 187.8h5.4v5.4h-5.4zM218.4 187.5h5.4v5.4h-5.4zM221.3 188.5h5.4v5.4h-5.4zM224.8 189.2h5.4v5.4h-5.4zM227.1 187.1h5.4v5.4h-5.4zM158.4 190.5h5.4v5.4h-5.4zM162.7 190.6h5.4v5.4h-5.4zM164.4 191.7h5.4v5.4h-5.4zM166.1 191.7h5.4v5.4h-5.4zM169.1 189.8h5.4v5.4h-5.4zM173.4 189.6h5.4v5.4h-5.4zM174.8 190.6h5.4v5.4h-5.4zM177.0 191.8h5.4v5.4h-5.4zM180.0 191.4h5.4v5.4h-5.4zM182.4 191.1h5.4v5.4h-5.4zM187.3 191.5h5.4v5.4h-5.4zM187.8 191.0h5.4v5.4h-5.4zM191.2 191.8h5.4v5.4h-5.4zM194.8 189.6h5.4v5.4h-5.4zM198.3 191.0h5.4v5.4h-5.4zM200.4 191.7h5.4v5.4h-5.4zM201.3 190.7h5.4v5.4h-5.4zM205.3 191.9h5.4v5.4h-5.4zM207.2 190.8h5.4v5.4h-5.4zM209.7 191.3h5.4v5.4h-5.4zM212.9 190.5h5.4v5.4h-5.4zM216.6 190.6h5.4v5.4h-5.4zM217.6 189.8h5.4v5.4h-5.4zM221.4 191.1h5.4v5.4h-5.4zM223.8 189.9h5.4v5.4h-5.4zM157.4 192.3h5.4v5.4h-5.4zM158.3 192.3h5.4v5.4h-5.4zM161.1 194.7h5.4v5.4h-5.4zM165.7 194.6h5.4v5.4h-5.4zM167.8 193.3h5.4v5.4h-5.4zM170.5 192.5h5.4v5.4h-5.4zM172.6 193.4h5.4v5.4h-5.4zM176.0 193.6h5.4v5.4h-5.4zM179.0 192.3h5.4v5.4h-5.4zM179.7 192.5h5.4v5.4h-5.4zM183.1 193.2h5.4v5.4h-5.4zM186.5 192.8h5.4v5.4h-5.4zM188.6 194.3h5.4v5.4h-5.4zM190.4 193.5h5.4v5.4h-5.4zM195.4 192.3h5.4v5.4h-5.4zM197.8 193.6h5.4v5.4h-5.4zM199.6 193.5h5.4v5.4h-5.4zM202.4 192.8h5.4v5.4h-5.4zM204.2 192.5h5.4v5.4h-5.4zM208.0 193.6h5.4v5.4h-5.4zM211.9 194.3h5.4v5.4h-5.4zM212.4 194.2h5.4v5.4h-5.4zM215.2 194.1h5.4v5.4h-5.4zM219.8 192.6h5.4v5.4h-5.4zM220.5 192.7h5.4v5.4h-5.4zM154.9 196.1h5.4v5.4h-5.4zM156.0 195.6h5.4v5.4h-5.4zM160.5 196.3h5.4v5.4h-5.4zM160.9 195.4h5.4v5.4h-5.4zM164.3 195.4h5.4v5.4h-5.4zM166.2 195.9h5.4v5.4h-5.4zM169.8 196.3h5.4v5.4h-5.4zM171.5 196.6h5.4v5.4h-5.4zM175.5 195.8h5.4v5.4h-5.4zM177.0 195.6h5.4v5.4h-5.4zM179.9 194.9h5.4v5.4h-5.4zM182.4 197.1h5.4v5.4h-5.4zM186.2 196.2h5.4v5.4h-5.4zM188.0 196.8h5.4v5.4h-5.4zM191.7 195.7h5.4v5.4h-5.4zM194.4 196.9h5.4v5.4h-5.4zM198.1 196.7h5.4v5.4h-5.4zM199.7 196.2h5.4v5.4h-5.4zM202.6 196.9h5.4v5.4h-5.4zM204.0 196.8h5.4v5.4h-5.4zM208.2 197.2h5.4v5.4h-5.4zM210.5 195.8h5.4v5.4h-5.4zM212.4 196.3h5.4v5.4h-5.4zM216.7 196.1h5.4v5.4h-5.4zM218.2 197.1h5.4v5.4h-5.4zM220.7 196.7h5.4v5.4h-5.4zM152.3 199.7h5.4v5.4h-5.4zM154.7 199.0h5.4v5.4h-5.4zM157.2 199.7h5.4v5.4h-5.4zM158.1 197.7h5.4v5.4h-5.4zM162.0 199.8h5.4v5.4h-5.4zM164.6 199.3h5.4v5.4h-5.4zM167.9 198.5h5.4v5.4h-5.4zM169.0 199.8h5.4v5.4h-5.4zM173.6 198.7h5.4v5.4h-5.4zM175.4 199.3h5.4v5.4h-5.4zM177.2 197.5h5.4v5.4h-5.4zM180.2 198.1h5.4v5.4h-5.4zM183.4 199.3h5.4v5.4h-5.4zM186.8 197.6h5.4v5.4h-5.4zM189.3 199.4h5.4v5.4h-5.4zM191.3 198.4h5.4v5.4h-5.4zM194.8 197.6h5.4v5.4h-5.4zM198.2 199.2h5.4v5.4h-5.4zM200.6 200.0h5.4v5.4h-5.4zM203.8 198.7h5.4v5.4h-5.4zM205.5 199.2h5.4v5.4h-5.4zM208.2 198.4h5.4v5.4h-5.4zM211.5 199.1h5.4v5.4h-5.4zM213.5 199.7h5.4v5.4h-5.4zM217.3 198.7h5.4v5.4h-5.4zM218.4 197.5h5.4v5.4h-5.4zM152.4 200.5h5.4v5.4h-5.4zM154.0 200.2h5.4v5.4h-5.4zM155.5 202.5h5.4v5.4h-5.4zM159.3 201.4h5.4v5.4h-5.4zM162.5 200.3h5.4v5.4h-5.4zM165.8 202.0h5.4v5.4h-5.4zM168.0 202.0h5.4v5.4h-5.4zM170.8 201.7h5.4v5.4h-5.4zM172.9 200.9h5.4v5.4h-5.4zM176.5 201.1h5.4v5.4h-5.4zM177.9 200.7h5.4v5.4h-5.4zM182.1 202.2h5.4v5.4h-5.4zM183.8 200.4h5.4v5.4h-5.4zM185.1 201.8h5.4v5.4h-5.4zM190.2 201.0h5.4v5.4h-5.4zM191.0 200.6h5.4v5.4h-5.4zM194.4 201.3h5.4v5.4h-5.4zM198.3 201.0h5.4v5.4h-5.4zM199.9 200.5h5.4v5.4h-5.4zM202.8 202.5h5.4v5.4h-5.4zM205.7 200.8h5.4v5.4h-5.4zM208.8 202.1h5.4v5.4h-5.4zM209.7 202.7h5.4v5.4h-5.4zM214.4 201.6h5.4v5.4h-5.4zM215.7 202.6h5.4v5.4h-5.4zM218.2 200.3h5.4v5.4h-5.4zM145.8 205.3h5.4v5.4h-5.4zM149.4 205.0h5.4v5.4h-5.4zM150.8 203.0h5.4v5.4h-5.4zM153.8 205.5h5.4v5.4h-5.4zM156.4 205.2h5.4v5.4h-5.4zM160.0 205.2h5.4v5.4h-5.4zM161.4 204.5h5.4v5.4h-5.4zM165.2 205.4h5.4v5.4h-5.4zM166.5 204.4h5.4v5.4h-5.4zM170.0 203.1h5.4v5.4h-5.4zM173.6 204.8h5.4v5.4h-5.4zM175.4 204.0h5.4v5.4h-5.4zM179.0 204.4h5.4v5.4h-5.4zM180.0 204.1h5.4v5.4h-5.4zM182.6 203.1h5.4v5.4h-5.4zM185.4 205.1h5.4v5.4h-5.4zM190.0 204.3h5.4v5.4h-5.4zM191.1 205.1h5.4v5.4h-5.4zM194.8 204.5h5.4v5.4h-5.4zM196.3 204.0h5.4v5.4h-5.4zM201.0 204.4h5.4v5.4h-5.4zM201.3 204.4h5.4v5.4h-5.4zM206.3 203.4h5.4v5.4h-5.4zM206.6 203.0h5.4v5.4h-5.4zM211.6 203.3h5.4v5.4h-5.4zM213.5 203.5h5.4v5.4h-5.4zM148.6 206.0h5.4v5.4h-5.4zM151.5 207.2h5.4v5.4h-5.4zM154.2 206.4h5.4v5.4h-5.4zM157.1 206.2h5.4v5.4h-5.4zM159.5 208.1h5.4v5.4h-5.4zM162.1 207.6h5.4v5.4h-5.4zM164.4 206.7h5.4v5.4h-5.4zM168.0 206.1h5.4v5.4h-5.4zM171.4 206.9h5.4v5.4h-5.4zM173.1 206.6h5.4v5.4h-5.4zM174.2 207.1h5.4v5.4h-5.4zM178.5 207.6h5.4v5.4h-5.4zM181.5 207.2h5.4v5.4h-5.4zM183.7 207.3h5.4v5.4h-5.4zM185.2 207.4h5.4v5.4h-5.4zM188.8 208.1h5.4v5.4h-5.4zM190.8 206.9h5.4v5.4h-5.4zM193.5 207.9h5.4v5.4h-5.4zM197.7 206.0h5.4v5.4h-5.4zM201.1 205.8h5.4v5.4h-5.4zM201.2 208.1h5.4v5.4h-5.4zM205.1 207.3h5.4v5.4h-5.4zM207.0 206.5h5.4v5.4h-5.4zM211.6 205.9h5.4v5.4h-5.4zM213.2 207.0h5.4v5.4h-5.4zM129.6 210.8h5.4v5.4h-5.4zM133.2 209.8h5.4v5.4h-5.4zM135.5 208.9h5.4v5.4h-5.4zM137.6 208.6h5.4v5.4h-5.4zM140.4 208.8h5.4v5.4h-5.4zM143.9 209.0h5.4v5.4h-5.4zM144.7 208.9h5.4v5.4h-5.4zM148.5 210.1h5.4v5.4h-5.4zM151.7 209.8h5.4v5.4h-5.4zM155.2 209.2h5.4v5.4h-5.4zM156.5 209.6h5.4v5.4h-5.4zM158.2 210.0h5.4v5.4h-5.4zM160.8 208.5h5.4v5.4h-5.4zM163.9 209.0h5.4v5.4h-5.4zM167.3 208.7h5.4v5.4h-5.4zM171.4 209.9h5.4v5.4h-5.4zM172.9 210.1h5.4v5.4h-5.4zM176.2 208.9h5.4v5.4h-5.4zM177.2 208.6h5.4v5.4h-5.4zM180.1 209.8h5.4v5.4h-5.4zM184.8 209.4h5.4v5.4h-5.4zM187.5 209.5h5.4v5.4h-5.4zM189.0 209.3h5.4v5.4h-5.4zM192.1 210.7h5.4v5.4h-5.4zM193.9 209.7h5.4v5.4h-5.4zM196.8 210.3h5.4v5.4h-5.4zM199.8 209.6h5.4v5.4h-5.4zM203.1 209.0h5.4v5.4h-5.4zM204.5 209.9h5.4v5.4h-5.4zM208.4 209.4h5.4v5.4h-5.4zM210.7 208.6h5.4v5.4h-5.4zM119.1 212.4h5.4v5.4h-5.4zM121.3 211.6h5.4v5.4h-5.4zM124.7 213.3h5.4v5.4h-5.4zM126.4 212.2h5.4v5.4h-5.4zM129.9 213.0h5.4v5.4h-5.4zM133.1 212.9h5.4v5.4h-5.4zM134.9 212.2h5.4v5.4h-5.4zM137.2 213.2h5.4v5.4h-5.4zM140.5 212.4h5.4v5.4h-5.4zM141.8 211.7h5.4v5.4h-5.4zM147.0 211.4h5.4v5.4h-5.4zM149.7 213.1h5.4v5.4h-5.4zM149.9 213.3h5.4v5.4h-5.4zM153.4 213.4h5.4v5.4h-5.4zM157.4 213.2h5.4v5.4h-5.4zM159.3 211.2h5.4v5.4h-5.4zM162.0 213.1h5.4v5.4h-5.4zM165.1 211.4h5.4v5.4h-5.4zM166.3 212.5h5.4v5.4h-5.4zM170.7 212.1h5.4v5.4h-5.4zM173.4 212.5h5.4v5.4h-5.4zM174.7 211.8h5.4v5.4h-5.4zM178.5 213.5h5.4v5.4h-5.4zM179.7 213.5h5.4v5.4h-5.4zM182.8 213.0h5.4v5.4h-5.4zM187.2 212.4h5.4v5.4h-5.4zM188.9 212.2h5.4v5.4h-5.4zM191.9 211.4h5.4v5.4h-5.4zM193.4 211.1h5.4v5.4h-5.4zM197.7 212.0h5.4v5.4h-5.4zM200.1 212.7h5.4v5.4h-5.4zM203.5 211.9h5.4v5.4h-5.4zM204.5 213.5h5.4v5.4h-5.4zM207.1 212.9h5.4v5.4h-5.4zM105.4 215.4h5.4v5.4h-5.4zM111.3 215.0h5.4v5.4h-5.4zM113.9 213.9h5.4v5.4h-5.4zM115.3 214.5h5.4v5.4h-5.4zM118.2 214.0h5.4v5.4h-5.4zM121.6 215.7h5.4v5.4h-5.4zM123.1 215.6h5.4v5.4h-5.4zM126.0 215.0h5.4v5.4h-5.4zM130.3 215.0h5.4v5.4h-5.4zM132.0 213.8h5.4v5.4h-5.4zM134.7 215.9h5.4v5.4h-5.4zM137.5 215.1h5.4v5.4h-5.4zM139.3 216.1h5.4v5.4h-5.4zM144.4 215.1h5.4v5.4h-5.4zM146.1 214.9h5.4v5.4h-5.4zM148.9 214.9h5.4v5.4h-5.4zM150.0 214.5h5.4v5.4h-5.4zM154.6 214.9h5.4v5.4h-5.4zM157.3 215.1h5.4v5.4h-5.4zM159.0 213.7h5.4v5.4h-5.4zM160.8 216.2h5.4v5.4h-5.4zM164.8 216.1h5.4v5.4h-5.4zM167.9 214.0h5.4v5.4h-5.4zM170.4 214.8h5.4v5.4h-5.4zM172.4 215.4h5.4v5.4h-5.4zM175.5 214.8h5.4v5.4h-5.4zM177.0 214.3h5.4v5.4h-5.4zM180.0 214.9h5.4v5.4h-5.4zM183.9 215.6h5.4v5.4h-5.4zM187.5 214.7h5.4v5.4h-5.4zM189.7 213.8h5.4v5.4h-5.4zM191.1 215.1h5.4v5.4h-5.4zM103.2 216.7h5.4v5.4h-5.4zM108.3 217.0h5.4v5.4h-5.4zM113.9 216.9h5.4v5.4h-5.4zM114.8 216.8h5.4v5.4h-5.4zM120.0 216.5h5.4v5.4h-5.4zM123.6 216.6h5.4v5.4h-5.4zM129.8 216.6h5.4v5.4h-5.4zM146.9 217.1h5.4v5.4h-5.4zM149.5 217.3h5.4v5.4h-5.4zM161.8 217.0h5.4v5.4h-5.4zM167.5 217.2h5.4v5.4h-5.4zM174.4 217.1h5.4v5.4h-5.4zM180.1 216.4h5.4v5.4h-5.4zM182.4 216.5h5.4v5.4h-5.4zM191.8 217.2h5.4v5.4h-5.4zM102.3 215.3h5.4v5.4h-5.4zM107.3 214.3h5.4v5.4h-5.4zM113.3 213.3h5.4v5.4h-5.4zM118.3 209.3h5.4v5.4h-5.4zM125.3 210.3h5.4v5.4h-5.4zM131.3 209.3h5.4v5.4h-5.4zM138.3 208.3h5.4v5.4h-5.4zM142.3 205.3h5.4v5.4h-5.4zM147.3 199.3h5.4v5.4h-5.4zM153.3 190.3h5.4v5.4h-5.4zM157.3 192.3h5.4v5.4h-5.4zM162.3 184.3h5.4v5.4h-5.4zM168.3 187.3h5.4v5.4h-5.4zM176.3 182.3h5.4v5.4h-5.4zM182.3 175.3h5.4v5.4h-5.4zM187.3 164.3h5.4v5.4h-5.4zM191.9 159.3h5.4v5.4h-5.4zM197.3 151.3h5.4v5.4h-5.4zM198.3 136.3h5.4v5.4h-5.4zM199.3 147.3h5.4v5.4h-5.4zM539.7 41.9h5.4v5.4h-5.4zM561.9 40.7h5.4v5.4h-5.4zM541.7 49.7h5.4v5.4h-5.4zM562.3 48.9h5.4v5.4h-5.4zM510.5 57.9h5.4v5.4h-5.4zM541.3 61.3h5.4v5.4h-5.4zM560.9 62.7h5.4v5.4h-5.4zM519.3 64.3h5.4v5.4h-5.4zM526.9 64.7h5.4v5.4h-5.4zM566.7 70.9h5.4v5.4h-5.4zM542.3 73.3h5.4v5.4h-5.4zM540.3 76.3h5.4v5.4h-5.4zM549.9 76.3h5.4v5.4h-5.4zM500.9 79.7h5.4v5.4h-5.4zM518.7 83.9h5.4v5.4h-5.4zM479.3 85.7h5.4v5.4h-5.4zM548.9 93.9h5.4v5.4h-5.4zM492.5 95.7h5.4v5.4h-5.4zM513.9 96.3h5.4v5.4h-5.4zM517.3 98.3h5.4v5.4h-5.4zM532.3 95.3h5.4v5.4h-5.4zM534.3 97.7h5.4v5.4h-5.4zM505.7 104.3h5.4v5.4h-5.4zM518.3 104.9h5.4v5.4h-5.4zM523.3 104.3h5.4v5.4h-5.4zM528.9 106.7h5.4v5.4h-5.4zM538.9 104.3h5.4v5.4h-5.4zM488.3 112.3h5.4v5.4h-5.4zM491.3 111.3h5.4v5.4h-5.4zM514.9 113.9h5.4v5.4h-5.4zM495.7 117.3h5.4v5.4h-5.4zM501.9 116.7h5.4v5.4h-5.4zM512.9 119.7h5.4v5.4h-5.4zM492.3 124.9h5.4v5.4h-5.4zM510.9 126.3h5.4v5.4h-5.4zM515.7 123.3h5.4v5.4h-5.4zM522.9 123.7h5.4v5.4h-5.4zM486.9 130.3h5.4v5.4h-5.4zM493.3 131.7h5.4v5.4h-5.4zM479.3 132.9h5.4v5.4h-5.4zM503.7 131.7h5.4v5.4h-5.4zM500.9 136.3h5.4v5.4h-5.4zM504.3 138.3h5.4v5.4h-5.4zM510.3 135.3h5.4v5.4h-5.4zM509.9 138.3h5.4v5.4h-5.4zM489.7 141.7h5.4v5.4h-5.4zM479.0 85.4h5.4v5.4h-5.4zM492.3 95.5h5.4v5.4h-5.4zM472.0 101.9h5.4v5.4h-5.4zM488.2 112.5h5.4v5.4h-5.4zM491.1 111.5h5.4v5.4h-5.4zM495.5 117.5h5.4v5.4h-5.4zM492.3 124.7h5.4v5.4h-5.4zM472.5 126.4h5.4v5.4h-5.4zM460.4 127.1h5.4v5.4h-5.4zM459.9 131.1h5.4v5.4h-5.4zM486.8 129.9h5.4v5.4h-5.4zM492.9 132.0h5.4v5.4h-5.4zM479.5 132.8h5.4v5.4h-5.4zM449.8 137.5h5.4v5.4h-5.4zM461.6 138.0h5.4v5.4h-5.4zM467.2 136.3h5.4v5.4h-5.4zM447.7 143.2h5.4v5.4h-5.4zM465.1 142.7h5.4v5.4h-5.4zM489.7 142.7h5.4v5.4h-5.4zM475.5 145.0h5.4v5.4h-5.4zM452.9 149.3h5.4v5.4h-5.4zM457.8 148.4h5.4v5.4h-5.4zM471.2 148.4h5.4v5.4h-5.4zM476.4 149.3h5.4v5.4h-5.4zM487.6 152.8h5.4v5.4h-5.4zM454.7 153.7h5.4v5.4h-5.4zM460.7 154.9h5.4v5.4h-5.4zM448.6 156.6h5.4v5.4h-5.4zM472.9 156.3h5.4v5.4h-5.4zM485.0 156.3h5.4v5.4h-5.4zM503.3 132.0h5.4v5.4h-5.4zM509.9 134.6h5.4v5.4h-5.4zM500.7 136.3h5.4v5.4h-5.4zM503.3 138.9h5.4v5.4h-5.4zM509.9 138.0h5.4v5.4h-5.4zM497.2 146.7h5.4v5.4h-5.4zM505.0 148.4h5.4v5.4h-5.4zM515.1 146.7h5.4v5.4h-5.4zM498.1 151.1h5.4v5.4h-5.4zM505.9 151.9h5.4v5.4h-5.4zM513.7 151.1h5.4v5.4h-5.4zM517.2 154.5h5.4v5.4h-5.4zM522.4 156.3h5.4v5.4h-5.4zM387.9 194.3h5.4v5.4h-5.4zM387.9 199.0h5.4v5.4h-5.4zM391.8 196.7h5.4v5.4h-5.4zM388.7 203.7h5.4v5.4h-5.4zM393.4 199.8h5.4v5.4h-5.4zM395.4 205.6h5.4v5.4h-5.4zM398.1 190.4h5.4v5.4h-5.4zM401.2 192.0h5.4v5.4h-5.4zM405.1 195.1h5.4v5.4h-5.4zM402.8 200.6h5.4v5.4h-5.4zM405.1 202.9h5.4v5.4h-5.4zM410.6 191.2h5.4v5.4h-5.4zM413.7 190.4h5.4v5.4h-5.4zM412.9 201.4h5.4v5.4h-5.4zM414.2 177.6h5.4v5.4h-5.4zM448.1 143.6h5.4v5.4h-5.4zM449.6 138.6h5.4v5.4h-5.4zM525.7 170.9h5.4v5.4h-5.4zM509.3 196.4h5.4v5.4h-5.4zM513.5 199.3h5.4v5.4h-5.4zM494.2 205.3h5.4v5.4h-5.4zM497.6 206.1h5.4v5.4h-5.4zM464.8 142.8h5.4v5.4h-5.4zM475.7 145.1h5.4v5.4h-5.4zM471.1 148.6h5.4v5.4h-5.4zM489.8 142.5h5.4v5.4h-5.4zM460.9 138.9h5.4v5.4h-5.4zM503.9 138.6h5.4v5.4h-5.4zM510.1 138.6h5.4v5.4h-5.4zM453.9 151.5h5.4v5.4h-5.4zM457.5 155.1h5.4v5.4h-5.4zM451.0 156.9h5.4v5.4h-5.4zM455.6 158.3h5.4v5.4h-5.4zM459.3 157.7h5.4v5.4h-5.4zM452.3 160.3h5.4v5.4h-5.4zM457.0 161.5h5.4v5.4h-5.4zM459.8 160.8h5.4v5.4h-5.4zM456.1 162.9h5.4v5.4h-5.4zM457.6 162.9h5.4v5.4h-5.4zM451.8 168.1h5.4v5.4h-5.4zM455.8 165.6h5.4v5.4h-5.4zM459.0 167.8h5.4v5.4h-5.4zM439.7 172.0h5.4v5.4h-5.4zM449.2 170.0h5.4v5.4h-5.4zM459.4 169.2h5.4v5.4h-5.4zM447.6 173.2h5.4v5.4h-5.4zM450.9 174.1h5.4v5.4h-5.4zM459.8 174.5h5.4v5.4h-5.4zM431.0 176.0h5.4v5.4h-5.4zM445.8 178.1h5.4v5.4h-5.4zM450.1 178.9h5.4v5.4h-5.4zM451.0 175.7h5.4v5.4h-5.4zM426.2 180.0h5.4v5.4h-5.4zM428.2 180.6h5.4v5.4h-5.4zM432.9 181.8h5.4v5.4h-5.4zM440.0 182.3h5.4v5.4h-5.4zM445.0 179.2h5.4v5.4h-5.4zM449.4 180.0h5.4v5.4h-5.4zM451.6 180.9h5.4v5.4h-5.4zM454.9 180.9h5.4v5.4h-5.4zM426.0 185.6h5.4v5.4h-5.4zM429.1 184.8h5.4v5.4h-5.4zM431.1 183.4h5.4v5.4h-5.4zM435.8 185.6h5.4v5.4h-5.4zM438.5 184.8h5.4v5.4h-5.4zM440.1 185.4h5.4v5.4h-5.4zM449.6 182.7h5.4v5.4h-5.4zM424.4 187.4h5.4v5.4h-5.4zM429.5 187.0h5.4v5.4h-5.4zM430.1 187.6h5.4v5.4h-5.4zM436.4 187.9h5.4v5.4h-5.4zM437.1 185.9h5.4v5.4h-5.4zM442.1 187.5h5.4v5.4h-5.4zM444.8 188.9h5.4v5.4h-5.4zM447.6 188.5h5.4v5.4h-5.4zM459.4 186.9h5.4v5.4h-5.4zM430.1 189.4h5.4v5.4h-5.4zM436.2 191.8h5.4v5.4h-5.4zM439.6 192.1h5.4v5.4h-5.4zM445.6 191.3h5.4v5.4h-5.4zM447.1 190.3h5.4v5.4h-5.4zM452.3 191.4h5.4v5.4h-5.4zM456.7 189.2h5.4v5.4h-5.4zM457.3 190.4h5.4v5.4h-5.4zM422.1 194.6h5.4v5.4h-5.4zM431.8 194.9h5.4v5.4h-5.4zM435.3 193.9h5.4v5.4h-5.4zM437.6 193.3h5.4v5.4h-5.4zM440.3 193.0h5.4v5.4h-5.4zM446.8 195.2h5.4v5.4h-5.4zM449.3 193.3h5.4v5.4h-5.4zM450.2 194.3h5.4v5.4h-5.4zM454.0 193.0h5.4v5.4h-5.4zM458.6 193.3h5.4v5.4h-5.4zM422.6 196.0h5.4v5.4h-5.4zM425.2 199.3h5.4v5.4h-5.4zM429.3 197.1h5.4v5.4h-5.4zM435.8 198.6h5.4v5.4h-5.4zM438.0 197.9h5.4v5.4h-5.4zM441.9 196.1h5.4v5.4h-5.4zM446.3 198.4h5.4v5.4h-5.4zM450.0 198.5h5.4v5.4h-5.4zM452.6 198.9h5.4v5.4h-5.4zM456.8 197.4h5.4v5.4h-5.4zM457.0 197.1h5.4v5.4h-5.4zM419.3 199.8h5.4v5.4h-5.4zM421.0 202.1h5.4v5.4h-5.4zM426.4 202.3h5.4v5.4h-5.4zM428.9 202.2h5.4v5.4h-5.4zM432.1 202.3h5.4v5.4h-5.4zM433.7 199.5h5.4v5.4h-5.4zM439.4 200.0h5.4v5.4h-5.4zM442.6 199.9h5.4v5.4h-5.4zM445.6 201.5h5.4v5.4h-5.4zM449.9 200.1h5.4v5.4h-5.4zM453.4 199.8h5.4v5.4h-5.4zM455.5 202.5h5.4v5.4h-5.4zM458.4 200.2h5.4v5.4h-5.4zM422.8 203.9h5.4v5.4h-5.4zM424.4 203.0h5.4v5.4h-5.4zM428.1 205.5h5.4v5.4h-5.4zM430.3 203.6h5.4v5.4h-5.4zM433.3 202.9h5.4v5.4h-5.4zM437.9 205.7h5.4v5.4h-5.4zM440.8 205.3h5.4v5.4h-5.4zM446.0 205.0h5.4v5.4h-5.4zM448.4 204.2h5.4v5.4h-5.4zM452.1 205.1h5.4v5.4h-5.4zM455.4 205.6h5.4v5.4h-5.4zM457.6 203.2h5.4v5.4h-5.4zM431.9 206.8h5.4v5.4h-5.4zM439.2 206.9h5.4v5.4h-5.4zM388.0 194.6h5.4v5.4h-5.4zM388.0 199.3h5.4v5.4h-5.4zM388.6 204.0h5.4v5.4h-5.4zM392.0 196.6h5.4v5.4h-5.4zM392.6 200.6h5.4v5.4h-5.4zM395.3 206.0h5.4v5.4h-5.4zM398.0 190.6h5.4v5.4h-5.4zM401.3 192.0h5.4v5.4h-5.4zM402.6 202.6h5.4v5.4h-5.4zM404.0 197.3h5.4v5.4h-5.4zM400.0 201.3h5.4v5.4h-5.4zM408.0 192.6h5.4v5.4h-5.4zM411.3 190.6h5.4v5.4h-5.4zM414.0 191.3h5.4v5.4h-5.4zM412.0 201.3h5.4v5.4h-5.4zM409.3 198.0h5.4v5.4h-5.4zM407.3 203.3h5.4v5.4h-5.4zM414.4 177.6h5.4v5.4h-5.4zM420.1 200.1h5.4v5.4h-5.4zM423.3 198.9h5.4v5.4h-5.4zM427.8 199.7h5.4v5.4h-5.4zM431.1 199.2h5.4v5.4h-5.4zM433.9 198.3h5.4v5.4h-5.4zM440.9 198.5h5.4v5.4h-5.4zM443.7 199.1h5.4v5.4h-5.4zM446.3 197.9h5.4v5.4h-5.4zM448.5 198.0h5.4v5.4h-5.4zM456.7 199.1h5.4v5.4h-5.4zM459.2 198.4h5.4v5.4h-5.4zM470.7 197.7h5.4v5.4h-5.4zM479.3 199.0h5.4v5.4h-5.4zM485.8 199.0h5.4v5.4h-5.4zM487.9 198.4h5.4v5.4h-5.4zM416.5 203.4h5.4v5.4h-5.4zM419.1 202.3h5.4v5.4h-5.4zM426.3 202.2h5.4v5.4h-5.4zM431.2 200.6h5.4v5.4h-5.4zM431.7 202.0h5.4v5.4h-5.4zM442.6 200.4h5.4v5.4h-5.4zM445.9 202.0h5.4v5.4h-5.4zM449.0 201.8h5.4v5.4h-5.4zM451.9 202.0h5.4v5.4h-5.4zM456.4 202.7h5.4v5.4h-5.4zM458.6 203.3h5.4v5.4h-5.4zM462.2 201.6h5.4v5.4h-5.4zM465.2 203.1h5.4v5.4h-5.4zM469.6 202.2h5.4v5.4h-5.4zM472.5 200.7h5.4v5.4h-5.4zM478.1 201.8h5.4v5.4h-5.4zM482.2 203.3h5.4v5.4h-5.4zM487.1 200.5h5.4v5.4h-5.4zM417.3 205.3h5.4v5.4h-5.4zM422.4 206.1h5.4v5.4h-5.4zM426.5 204.6h5.4v5.4h-5.4zM429.4 205.4h5.4v5.4h-5.4zM433.9 205.7h5.4v5.4h-5.4zM435.4 204.4h5.4v5.4h-5.4zM439.5 205.2h5.4v5.4h-5.4zM444.5 204.4h5.4v5.4h-5.4zM446.4 203.6h5.4v5.4h-5.4zM448.1 205.5h5.4v5.4h-5.4zM452.5 206.8h5.4v5.4h-5.4zM454.7 203.9h5.4v5.4h-5.4zM460.3 206.0h5.4v5.4h-5.4zM464.0 204.1h5.4v5.4h-5.4zM466.3 205.3h5.4v5.4h-5.4zM468.8 206.5h5.4v5.4h-5.4zM473.3 205.4h5.4v5.4h-5.4zM476.2 206.6h5.4v5.4h-5.4zM478.8 204.6h5.4v5.4h-5.4zM483.5 205.7h5.4v5.4h-5.4zM436.8 207.1h5.4v5.4h-5.4zM468.6 207.1h5.4v5.4h-5.4zM510.9 155.7h5.4v5.4h-5.4zM459.8 158.6h5.4v5.4h-5.4zM501.0 157.1h5.4v5.4h-5.4zM504.1 158.3h5.4v5.4h-5.4zM510.6 156.9h5.4v5.4h-5.4zM515.6 158.2h5.4v5.4h-5.4zM454.9 162.0h5.4v5.4h-5.4zM459.4 160.7h5.4v5.4h-5.4zM461.5 162.0h5.4v5.4h-5.4zM487.1 160.8h5.4v5.4h-5.4zM489.0 160.1h5.4v5.4h-5.4zM497.7 162.0h5.4v5.4h-5.4zM501.1 160.5h5.4v5.4h-5.4zM505.0 159.6h5.4v5.4h-5.4zM509.4 161.0h5.4v5.4h-5.4zM512.1 160.7h5.4v5.4h-5.4zM457.7 164.1h5.4v5.4h-5.4zM462.8 163.7h5.4v5.4h-5.4zM463.3 162.5h5.4v5.4h-5.4zM473.6 163.7h5.4v5.4h-5.4zM489.5 163.7h5.4v5.4h-5.4zM497.1 164.6h5.4v5.4h-5.4zM499.7 162.8h5.4v5.4h-5.4zM502.9 163.5h5.4v5.4h-5.4zM505.7 162.6h5.4v5.4h-5.4zM509.4 162.8h5.4v5.4h-5.4zM510.5 164.6h5.4v5.4h-5.4zM461.4 166.8h5.4v5.4h-5.4zM464.0 165.6h5.4v5.4h-5.4zM466.8 165.8h5.4v5.4h-5.4zM471.6 167.3h5.4v5.4h-5.4zM473.4 166.1h5.4v5.4h-5.4zM477.3 165.7h5.4v5.4h-5.4zM480.6 166.2h5.4v5.4h-5.4zM485.1 167.9h5.4v5.4h-5.4zM488.1 166.4h5.4v5.4h-5.4zM491.8 167.8h5.4v5.4h-5.4zM495.8 167.0h5.4v5.4h-5.4zM500.3 167.0h5.4v5.4h-5.4zM502.7 165.4h5.4v5.4h-5.4zM506.0 167.2h5.4v5.4h-5.4zM506.8 167.8h5.4v5.4h-5.4zM510.5 168.1h5.4v5.4h-5.4zM513.1 168.0h5.4v5.4h-5.4zM458.5 170.7h5.4v5.4h-5.4zM461.5 168.9h5.4v5.4h-5.4zM467.7 170.6h5.4v5.4h-5.4zM470.5 170.3h5.4v5.4h-5.4zM477.8 169.2h5.4v5.4h-5.4zM481.3 169.8h5.4v5.4h-5.4zM483.8 169.2h5.4v5.4h-5.4zM485.4 170.0h5.4v5.4h-5.4zM490.6 169.2h5.4v5.4h-5.4zM492.4 168.9h5.4v5.4h-5.4zM495.7 170.5h5.4v5.4h-5.4zM497.8 169.8h5.4v5.4h-5.4zM500.9 170.4h5.4v5.4h-5.4zM510.5 168.6h5.4v5.4h-5.4zM514.8 169.2h5.4v5.4h-5.4zM459.3 171.8h5.4v5.4h-5.4zM461.1 174.4h5.4v5.4h-5.4zM464.4 173.1h5.4v5.4h-5.4zM468.0 171.7h5.4v5.4h-5.4zM470.4 174.5h5.4v5.4h-5.4zM479.8 172.2h5.4v5.4h-5.4zM484.2 172.4h5.4v5.4h-5.4zM487.4 174.4h5.4v5.4h-5.4zM488.2 174.0h5.4v5.4h-5.4zM491.2 172.4h5.4v5.4h-5.4zM497.9 172.1h5.4v5.4h-5.4zM503.4 173.6h5.4v5.4h-5.4zM509.5 171.9h5.4v5.4h-5.4zM511.7 171.6h5.4v5.4h-5.4zM513.7 172.6h5.4v5.4h-5.4zM455.8 177.5h5.4v5.4h-5.4zM459.1 175.7h5.4v5.4h-5.4zM463.1 174.8h5.4v5.4h-5.4zM465.0 177.6h5.4v5.4h-5.4zM466.9 174.7h5.4v5.4h-5.4zM470.5 175.7h5.4v5.4h-5.4zM480.1 176.1h5.4v5.4h-5.4zM484.2 175.3h5.4v5.4h-5.4zM487.2 176.5h5.4v5.4h-5.4zM488.4 177.0h5.4v5.4h-5.4zM491.8 176.6h5.4v5.4h-5.4zM496.8 175.0h5.4v5.4h-5.4zM497.5 176.7h5.4v5.4h-5.4zM502.5 175.1h5.4v5.4h-5.4zM504.3 175.9h5.4v5.4h-5.4zM509.5 175.2h5.4v5.4h-5.4zM509.9 175.1h5.4v5.4h-5.4zM513.0 177.1h5.4v5.4h-5.4zM516.6 176.7h5.4v5.4h-5.4zM455.0 178.9h5.4v5.4h-5.4zM459.3 178.3h5.4v5.4h-5.4zM463.1 178.9h5.4v5.4h-5.4zM465.2 179.9h5.4v5.4h-5.4zM467.4 178.2h5.4v5.4h-5.4zM470.4 180.1h5.4v5.4h-5.4zM474.8 178.2h5.4v5.4h-5.4zM478.1 178.8h5.4v5.4h-5.4zM484.2 177.8h5.4v5.4h-5.4zM486.6 179.1h5.4v5.4h-5.4zM490.5 180.2h5.4v5.4h-5.4zM494.0 179.1h5.4v5.4h-5.4zM494.7 178.4h5.4v5.4h-5.4zM498.1 179.3h5.4v5.4h-5.4zM501.2 178.0h5.4v5.4h-5.4zM506.2 179.0h5.4v5.4h-5.4zM512.1 177.8h5.4v5.4h-5.4zM514.3 179.1h5.4v5.4h-5.4zM461.9 181.4h5.4v5.4h-5.4zM464.7 181.7h5.4v5.4h-5.4zM467.1 181.7h5.4v5.4h-5.4zM470.1 183.6h5.4v5.4h-5.4zM474.7 182.3h5.4v5.4h-5.4zM476.7 182.3h5.4v5.4h-5.4zM480.2 180.9h5.4v5.4h-5.4zM482.1 182.2h5.4v5.4h-5.4zM487.6 183.4h5.4v5.4h-5.4zM489.3 181.7h5.4v5.4h-5.4zM491.5 182.0h5.4v5.4h-5.4zM496.6 183.0h5.4v5.4h-5.4zM497.9 183.3h5.4v5.4h-5.4zM502.0 182.1h5.4v5.4h-5.4zM512.4 183.4h5.4v5.4h-5.4zM513.9 181.8h5.4v5.4h-5.4zM459.9 185.8h5.4v5.4h-5.4zM460.7 184.5h5.4v5.4h-5.4zM464.8 186.6h5.4v5.4h-5.4zM469.1 186.4h5.4v5.4h-5.4zM469.5 186.9h5.4v5.4h-5.4zM474.8 186.5h5.4v5.4h-5.4zM475.6 186.5h5.4v5.4h-5.4zM479.9 185.9h5.4v5.4h-5.4zM487.0 185.0h5.4v5.4h-5.4zM489.5 186.5h5.4v5.4h-5.4zM492.7 184.6h5.4v5.4h-5.4zM494.9 184.8h5.4v5.4h-5.4zM500.1 184.7h5.4v5.4h-5.4zM502.6 186.7h5.4v5.4h-5.4zM504.4 185.2h5.4v5.4h-5.4zM506.9 185.6h5.4v5.4h-5.4zM454.7 187.4h5.4v5.4h-5.4zM457.7 189.4h5.4v5.4h-5.4zM461.6 188.7h5.4v5.4h-5.4zM465.0 187.2h5.4v5.4h-5.4zM470.0 188.0h5.4v5.4h-5.4zM474.5 187.9h5.4v5.4h-5.4zM477.1 189.8h5.4v5.4h-5.4zM481.4 188.7h5.4v5.4h-5.4zM483.0 189.0h5.4v5.4h-5.4zM485.6 189.0h5.4v5.4h-5.4zM489.6 190.0h5.4v5.4h-5.4zM493.1 188.7h5.4v5.4h-5.4zM497.2 188.2h5.4v5.4h-5.4zM498.6 188.3h5.4v5.4h-5.4zM501.7 187.2h5.4v5.4h-5.4zM505.1 187.9h5.4v5.4h-5.4zM455.9 192.8h5.4v5.4h-5.4zM459.0 191.7h5.4v5.4h-5.4zM461.7 192.5h5.4v5.4h-5.4zM464.6 192.0h5.4v5.4h-5.4zM468.0 192.9h5.4v5.4h-5.4zM471.6 192.3h5.4v5.4h-5.4zM475.4 192.0h5.4v5.4h-5.4zM477.0 191.4h5.4v5.4h-5.4zM479.7 192.5h5.4v5.4h-5.4zM483.1 191.7h5.4v5.4h-5.4zM488.7 190.1h5.4v5.4h-5.4zM495.6 192.4h5.4v5.4h-5.4zM456.6 193.2h5.4v5.4h-5.4zM458.9 193.9h5.4v5.4h-5.4zM461.0 195.5h5.4v5.4h-5.4zM463.5 195.9h5.4v5.4h-5.4zM466.8 195.3h5.4v5.4h-5.4zM471.2 194.5h5.4v5.4h-5.4zM478.3 195.1h5.4v5.4h-5.4zM481.0 193.7h5.4v5.4h-5.4zM482.3 195.6h5.4v5.4h-5.4zM494.1 193.6h5.4v5.4h-5.4zM496.8 193.3h5.4v5.4h-5.4zM455.4 197.2h5.4v5.4h-5.4zM458.5 196.4h5.4v5.4h-5.4zM461.0 197.4h5.4v5.4h-5.4zM465.3 197.6h5.4v5.4h-5.4zM468.1 198.4h5.4v5.4h-5.4zM471.1 198.4h5.4v5.4h-5.4zM481.5 197.6h5.4v5.4h-5.4zM484.5 199.1h5.4v5.4h-5.4zM486.2 197.6h5.4v5.4h-5.4zM456.9 202.3h5.4v5.4h-5.4zM459.5 199.9h5.4v5.4h-5.4zM462.6 200.0h5.4v5.4h-5.4zM465.6 202.2h5.4v5.4h-5.4zM466.6 199.9h5.4v5.4h-5.4zM469.9 200.5h5.4v5.4h-5.4zM475.0 200.6h5.4v5.4h-5.4zM477.7 202.4h5.4v5.4h-5.4zM479.7 200.1h5.4v5.4h-5.4zM483.6 201.6h5.4v5.4h-5.4zM487.1 201.2h5.4v5.4h-5.4zM459.8 205.2h5.4v5.4h-5.4zM460.1 203.0h5.4v5.4h-5.4zM464.8 205.0h5.4v5.4h-5.4zM468.2 202.7h5.4v5.4h-5.4zM469.7 204.0h5.4v5.4h-5.4zM477.9 203.4h5.4v5.4h-5.4zM480.3 204.0h5.4v5.4h-5.4zM219.0 317.4h5.4v5.4h-5.4zM247.6 315.8h5.4v5.4h-5.4zM257.7 313.1h5.4v5.4h-5.4zM262.8 322.6h5.4v5.4h-5.4zM202.0 327.5h5.4v5.4h-5.4zM231.5 329.0h5.4v5.4h-5.4zM260.3 329.7h5.4v5.4h-5.4zM256.3 333.0h5.4v5.4h-5.4zM229.1 337.2h5.4v5.4h-5.4zM253.2 337.5h5.4v5.4h-5.4zM258.1 356.6h5.4v5.4h-5.4zM235.1 358.2h5.4v5.4h-5.4zM273.2 359.9h5.4v5.4h-5.4zM243.3 362.5h5.4v5.4h-5.4zM247.3 361.8h5.4v5.4h-5.4zM236.5 364.1h5.4v5.4h-5.4zM253.7 364.1h5.4v5.4h-5.4zM281.0 367.6h5.4v5.4h-5.4zM212.1 369.3h5.4v5.4h-5.4zM263.6 370.0h5.4v5.4h-5.4zM269.9 369.1h5.4v5.4h-5.4zM248.5 376.6h5.4v5.4h-5.4zM273.7 377.5h5.4v5.4h-5.4zM279.9 376.6h5.4v5.4h-5.4zM232.5 379.6h5.4v5.4h-5.4zM244.5 383.0h5.4v5.4h-5.4zM242.4 384.8h5.4v5.4h-5.4zM263.3 383.4h5.4v5.4h-5.4zM277.2 386.8h5.4v5.4h-5.4zM203.0 389.1h5.4v5.4h-5.4zM235.8 389.6h5.4v5.4h-5.4zM255.5 392.1h5.4v5.4h-5.4zM247.6 394.0h5.4v5.4h-5.4zM251.1 393.4h5.4v5.4h-5.4zM276.3 392.6h5.4v5.4h-5.4zM268.5 394.3h5.4v5.4h-5.4zM271.1 396.1h5.4v5.4h-5.4zM219.0 396.9h5.4v5.4h-5.4zM257.2 397.8h5.4v5.4h-5.4zM266.7 400.4h5.4v5.4h-5.4zM258.9 401.3h5.4v5.4h-5.4zM203.4 389.4h5.4v5.4h-5.4zM235.8 389.4h5.4v5.4h-5.4zM277.2 388.2h5.4v5.4h-5.4zM276.3 392.5h5.4v5.4h-5.4zM246.8 394.2h5.4v5.4h-5.4zM251.1 393.4h5.4v5.4h-5.4zM256.0 392.2h5.4v5.4h-5.4zM268.5 395.1h5.4v5.4h-5.4zM272.0 394.6h5.4v5.4h-5.4zM219.0 396.8h5.4v5.4h-5.4zM257.2 397.7h5.4v5.4h-5.4zM258.1 401.2h5.4v5.4h-5.4zM266.7 400.8h5.4v5.4h-5.4zM259.8 404.3h5.4v5.4h-5.4zM218.5 404.1h5.4v5.4h-5.4zM231.2 404.7h5.4v5.4h-5.4zM229.4 406.1h5.4v5.4h-5.4zM198.2 406.4h5.4v5.4h-5.4zM258.9 409.0h5.4v5.4h-5.4zM216.4 409.0h5.4v5.4h-5.4zM219.0 408.1h5.4v5.4h-5.4zM225.1 412.8h5.4v5.4h-5.4zM237.6 413.3h5.4v5.4h-5.4zM257.2 414.2h5.4v5.4h-5.4zM212.1 413.7h5.4v5.4h-5.4zM216.4 414.7h5.4v5.4h-5.4zM251.6 416.5h5.4v5.4h-5.4zM207.7 417.7h5.4v5.4h-5.4zM237.6 418.6h5.4v5.4h-5.4zM245.4 421.7h5.4v5.4h-5.4zM202.5 426.4h5.4v5.4h-5.4zM220.7 425.5h5.4v5.4h-5.4zM224.2 425.8h5.4v5.4h-5.4zM203.9 429.8h5.4v5.4h-5.4zM232.0 428.4h5.4v5.4h-5.4zM212.1 430.7h5.4v5.4h-5.4zM224.2 431.1h5.4v5.4h-5.4zM209.5 434.2h5.4v5.4h-5.4zM214.7 435.0h5.4v5.4h-5.4zM234.6 437.1h5.4v5.4h-5.4zM217.3 438.0h5.4v5.4h-5.4zM224.2 442.0h5.4v5.4h-5.4zM204.8 443.7h5.4v5.4h-5.4zM199.0 451.5h5.4v5.4h-5.4zM208.1 452.9h5.4v5.4h-5.4zM208.6 456.7h5.4v5.4h-5.4zM200.4 459.3h5.4v5.4h-5.4zM202.3 327.7h5.4v5.4h-5.4zM169.8 334.7h5.4v5.4h-5.4zM182.3 335.0h5.4v5.4h-5.4zM163.2 355.0h5.4v5.4h-5.4zM188.6 354.6h5.4v5.4h-5.4zM195.0 357.2h5.4v5.4h-5.4zM142.5 358.4h5.4v5.4h-5.4zM150.2 366.4h5.4v5.4h-5.4zM144.1 370.6h5.4v5.4h-5.4zM163.7 387.1h5.4v5.4h-5.4zM203.3 389.3h5.4v5.4h-5.4zM178.8 390.7h5.4v5.4h-5.4zM161.1 392.0h5.4v5.4h-5.4zM152.8 395.4h5.4v5.4h-5.4zM128.1 397.2h5.4v5.4h-5.4zM134.7 401.8h5.4v5.4h-5.4zM133.3 407.1h5.4v5.4h-5.4zM197.6 406.7h5.4v5.4h-5.4zM145.8 418.0h5.4v5.4h-5.4zM143.2 427.2h5.4v5.4h-5.4zM163.7 424.1h5.4v5.4h-5.4zM168.9 419.7h5.4v5.4h-5.4zM172.4 420.6h5.4v5.4h-5.4zM172.8 425.3h5.4v5.4h-5.4zM123.3 438.8h5.4v5.4h-5.4zM131.1 439.3h5.4v5.4h-5.4zM125.5 445.8h5.4v5.4h-5.4zM158.0 440.0h5.4v5.4h-5.4zM142.9 448.7h5.4v5.4h-5.4zM155.0 447.1h5.4v5.4h-5.4zM133.3 457.9h5.4v5.4h-5.4zM153.8 461.0h5.4v5.4h-5.4zM120.3 471.5h5.4v5.4h-5.4zM126.4 470.1h5.4v5.4h-5.4zM120.8 475.8h5.4v5.4h-5.4zM144.3 469.5h5.4v5.4h-5.4zM133.3 409.3h5.4v5.4h-5.4zM201.9 425.8h5.4v5.4h-5.4zM203.7 429.3h5.4v5.4h-5.4zM205.4 443.2h5.4v5.4h-5.4zM155.9 469.2h5.4v5.4h-5.4zM163.7 466.6h5.4v5.4h-5.4zM180.4 439.0h5.4v5.4h-5.4zM186.5 440.8h5.4v5.4h-5.4zM192.2 442.4h5.4v5.4h-5.4zM181.3 444.5h5.4v5.4h-5.4zM187.5 446.1h5.4v5.4h-5.4zM193.2 446.6h5.4v5.4h-5.4zM204.7 443.7h5.4v5.4h-5.4zM197.4 448.7h5.4v5.4h-5.4zM172.9 449.7h5.4v5.4h-5.4zM200.0 451.3h5.4v5.4h-5.4zM170.3 452.3h5.4v5.4h-5.4zM174.0 452.8h5.4v5.4h-5.4zM183.3 451.8h5.4v5.4h-5.4zM190.6 452.8h5.4v5.4h-5.4zM195.8 454.4h5.4v5.4h-5.4zM207.8 452.8h5.4v5.4h-5.4zM208.3 456.5h5.4v5.4h-5.4zM181.8 455.9h5.4v5.4h-5.4zM188.0 457.0h5.4v5.4h-5.4zM193.2 457.5h5.4v5.4h-5.4zM177.6 458.6h5.4v5.4h-5.4zM200.5 459.6h5.4v5.4h-5.4zM189.6 460.6h5.4v5.4h-5.4zM181.3 462.2h5.4v5.4h-5.4zM164.1 461.2h5.4v5.4h-5.4zM162.5 465.8h5.4v5.4h-5.4zM171.9 465.8h5.4v5.4h-5.4zM185.4 467.4h5.4v5.4h-5.4zM190.6 467.4h5.4v5.4h-5.4zM188.6 472.1h5.4v5.4h-5.4zM191.2 471.1h5.4v5.4h-5.4zM158.3 439.8h5.4v5.4h-5.4zM203.1 429.4h5.4v5.4h-5.4zM208.3 433.6h5.4v5.4h-5.4zM212.5 430.9h5.4v5.4h-5.4zM213.6 435.6h5.4v5.4h-5.4zM216.7 437.2h5.4v5.4h-5.4zM171.4 466.8h5.4v5.4h-5.4zM173.8 468.1h5.4v5.4h-5.4zM155.8 470.3h5.4v5.4h-5.4zM156.5 469.9h5.4v5.4h-5.4zM159.6 470.9h5.4v5.4h-5.4zM162.1 469.5h5.4v5.4h-5.4zM166.0 469.6h5.4v5.4h-5.4zM168.9 469.6h5.4v5.4h-5.4zM171.5 469.3h5.4v5.4h-5.4zM173.4 470.2h5.4v5.4h-5.4zM157.3 472.4h5.4v5.4h-5.4zM159.1 473.0h5.4v5.4h-5.4zM162.0 472.1h5.4v5.4h-5.4zM165.8 472.8h5.4v5.4h-5.4zM167.1 472.6h5.4v5.4h-5.4zM170.3 472.6h5.4v5.4h-5.4zM173.4 473.8h5.4v5.4h-5.4zM142.3 475.9h5.4v5.4h-5.4zM147.0 476.5h5.4v5.4h-5.4zM149.8 475.1h5.4v5.4h-5.4zM152.6 476.5h5.4v5.4h-5.4zM154.6 474.6h5.4v5.4h-5.4zM157.6 475.2h5.4v5.4h-5.4zM159.4 476.0h5.4v5.4h-5.4zM163.5 477.1h5.4v5.4h-5.4zM165.4 475.9h5.4v5.4h-5.4zM166.8 476.9h5.4v5.4h-5.4zM171.6 475.0h5.4v5.4h-5.4zM172.6 475.4h5.4v5.4h-5.4zM137.6 479.6h5.4v5.4h-5.4zM140.7 478.4h5.4v5.4h-5.4zM150.4 477.4h5.4v5.4h-5.4zM152.3 479.7h5.4v5.4h-5.4zM154.6 478.4h5.4v5.4h-5.4zM156.8 477.7h5.4v5.4h-5.4zM160.7 479.8h5.4v5.4h-5.4zM170.5 477.4h5.4v5.4h-5.4zM173.2 477.6h5.4v5.4h-5.4zM175.4 477.7h5.4v5.4h-5.4zM178.2 478.1h5.4v5.4h-5.4zM136.0 481.7h5.4v5.4h-5.4zM138.2 482.3h5.4v5.4h-5.4zM142.1 482.0h5.4v5.4h-5.4zM148.3 481.5h5.4v5.4h-5.4zM151.4 480.3h5.4v5.4h-5.4zM154.8 481.4h5.4v5.4h-5.4zM158.4 481.9h5.4v5.4h-5.4zM161.0 481.4h5.4v5.4h-5.4zM161.8 480.8h5.4v5.4h-5.4zM171.5 481.8h5.4v5.4h-5.4zM174.5 480.2h5.4v5.4h-5.4zM177.2 480.2h5.4v5.4h-5.4zM177.6 480.4h5.4v5.4h-5.4zM130.5 485.1h5.4v5.4h-5.4zM132.3 484.3h5.4v5.4h-5.4zM136.1 484.9h5.4v5.4h-5.4zM137.1 484.3h5.4v5.4h-5.4zM141.5 484.7h5.4v5.4h-5.4zM142.9 483.6h5.4v5.4h-5.4zM147.3 484.5h5.4v5.4h-5.4zM149.2 484.6h5.4v5.4h-5.4zM151.0 485.1h5.4v5.4h-5.4zM154.5 484.1h5.4v5.4h-5.4zM156.5 482.8h5.4v5.4h-5.4zM160.7 483.3h5.4v5.4h-5.4zM162.4 483.4h5.4v5.4h-5.4zM164.6 483.3h5.4v5.4h-5.4zM168.9 484.5h5.4v5.4h-5.4zM169.8 482.8h5.4v5.4h-5.4zM173.8 483.1h5.4v5.4h-5.4zM177.0 482.8h5.4v5.4h-5.4zM127.9 486.7h5.4v5.4h-5.4zM130.6 487.2h5.4v5.4h-5.4zM134.0 487.6h5.4v5.4h-5.4zM136.7 486.2h5.4v5.4h-5.4zM138.1 487.7h5.4v5.4h-5.4zM140.0 487.3h5.4v5.4h-5.4zM143.6 487.0h5.4v5.4h-5.4zM146.2 487.4h5.4v5.4h-5.4zM149.8 487.6h5.4v5.4h-5.4zM151.0 486.9h5.4v5.4h-5.4zM154.0 485.3h5.4v5.4h-5.4zM158.5 486.4h5.4v5.4h-5.4zM159.6 486.9h5.4v5.4h-5.4zM161.7 486.7h5.4v5.4h-5.4zM165.8 485.7h5.4v5.4h-5.4zM169.1 487.3h5.4v5.4h-5.4zM171.0 485.8h5.4v5.4h-5.4zM173.3 487.1h5.4v5.4h-5.4zM125.5 488.4h5.4v5.4h-5.4zM126.5 489.2h5.4v5.4h-5.4zM129.8 489.1h5.4v5.4h-5.4zM131.9 489.4h5.4v5.4h-5.4zM136.1 488.1h5.4v5.4h-5.4zM137.0 490.1h5.4v5.4h-5.4zM141.6 489.2h5.4v5.4h-5.4zM144.4 488.2h5.4v5.4h-5.4zM146.4 488.5h5.4v5.4h-5.4zM148.7 488.4h5.4v5.4h-5.4zM151.6 488.4h5.4v5.4h-5.4zM153.8 489.5h5.4v5.4h-5.4zM157.8 489.6h5.4v5.4h-5.4zM159.5 490.0h5.4v5.4h-5.4zM163.3 490.3h5.4v5.4h-5.4zM166.0 489.2h5.4v5.4h-5.4zM166.9 488.8h5.4v5.4h-5.4zM122.5 492.8h5.4v5.4h-5.4zM123.6 491.8h5.4v5.4h-5.4zM128.0 492.7h5.4v5.4h-5.4zM130.8 490.9h5.4v5.4h-5.4zM134.0 491.3h5.4v5.4h-5.4zM136.7 492.7h5.4v5.4h-5.4zM138.1 491.8h5.4v5.4h-5.4zM141.7 492.1h5.4v5.4h-5.4zM143.7 491.4h5.4v5.4h-5.4zM145.4 492.6h5.4v5.4h-5.4zM148.8 493.3h5.4v5.4h-5.4zM151.4 491.3h5.4v5.4h-5.4zM153.9 492.1h5.4v5.4h-5.4zM157.1 492.9h5.4v5.4h-5.4zM160.2 492.1h5.4v5.4h-5.4zM162.9 493.2h5.4v5.4h-5.4zM164.5 491.3h5.4v5.4h-5.4zM167.0 491.5h5.4v5.4h-5.4zM113.0 495.6h5.4v5.4h-5.4zM116.4 494.0h5.4v5.4h-5.4zM118.6 495.9h5.4v5.4h-5.4zM123.2 494.5h5.4v5.4h-5.4zM124.8 494.1h5.4v5.4h-5.4zM127.6 494.9h5.4v5.4h-5.4zM130.6 495.6h5.4v5.4h-5.4zM132.4 494.0h5.4v5.4h-5.4zM135.0 495.8h5.4v5.4h-5.4zM138.0 494.5h5.4v5.4h-5.4zM141.5 494.7h5.4v5.4h-5.4zM143.3 495.6h5.4v5.4h-5.4zM146.2 495.9h5.4v5.4h-5.4zM148.4 494.9h5.4v5.4h-5.4zM151.1 495.7h5.4v5.4h-5.4zM155.3 494.4h5.4v5.4h-5.4zM158.2 494.4h5.4v5.4h-5.4zM160.2 494.9h5.4v5.4h-5.4zM102.0 498.3h5.4v5.4h-5.4zM107.5 498.4h5.4v5.4h-5.4zM111.6 497.7h5.4v5.4h-5.4zM113.9 497.3h5.4v5.4h-5.4zM117.4 496.4h5.4v5.4h-5.4zM119.4 497.2h5.4v5.4h-5.4zM121.8 498.7h5.4v5.4h-5.4zM125.9 496.2h5.4v5.4h-5.4zM126.5 496.9h5.4v5.4h-5.4zM131.3 496.5h5.4v5.4h-5.4zM133.7 497.4h5.4v5.4h-5.4zM136.9 498.2h5.4v5.4h-5.4zM137.9 497.6h5.4v5.4h-5.4zM142.3 498.4h5.4v5.4h-5.4zM144.0 498.0h5.4v5.4h-5.4zM147.2 496.6h5.4v5.4h-5.4zM148.9 498.7h5.4v5.4h-5.4zM152.6 496.9h5.4v5.4h-5.4zM94.4 500.7h5.4v5.4h-5.4zM100.7 501.3h5.4v5.4h-5.4zM104.0 500.4h5.4v5.4h-5.4zM104.6 499.9h5.4v5.4h-5.4zM109.8 501.4h5.4v5.4h-5.4zM111.6 500.9h5.4v5.4h-5.4zM115.3 499.9h5.4v5.4h-5.4zM115.4 499.1h5.4v5.4h-5.4zM118.6 500.2h5.4v5.4h-5.4zM122.7 500.0h5.4v5.4h-5.4zM125.7 499.4h5.4v5.4h-5.4zM127.7 500.6h5.4v5.4h-5.4zM129.0 499.5h5.4v5.4h-5.4zM133.9 500.5h5.4v5.4h-5.4zM135.8 499.6h5.4v5.4h-5.4zM138.8 501.1h5.4v5.4h-5.4zM140.0 500.9h5.4v5.4h-5.4zM144.6 500.8h5.4v5.4h-5.4zM146.6 500.5h5.4v5.4h-5.4zM148.5 499.2h5.4v5.4h-5.4zM90.4 502.1h5.4v5.4h-5.4zM92.5 503.1h5.4v5.4h-5.4zM95.7 501.7h5.4v5.4h-5.4zM98.6 503.5h5.4v5.4h-5.4zM100.0 502.1h5.4v5.4h-5.4zM102.6 502.6h5.4v5.4h-5.4zM106.5 501.9h5.4v5.4h-5.4zM109.3 502.5h5.4v5.4h-5.4zM111.3 502.0h5.4v5.4h-5.4zM114.8 502.2h5.4v5.4h-5.4zM116.4 501.6h5.4v5.4h-5.4zM120.6 503.1h5.4v5.4h-5.4zM122.3 502.5h5.4v5.4h-5.4zM125.1 503.8h5.4v5.4h-5.4zM126.6 502.7h5.4v5.4h-5.4zM129.7 502.9h5.4v5.4h-5.4zM133.1 504.1h5.4v5.4h-5.4zM136.9 503.8h5.4v5.4h-5.4zM137.5 503.4h5.4v5.4h-5.4zM85.4 505.3h5.4v5.4h-5.4zM87.9 506.4h5.4v5.4h-5.4zM90.6 506.2h5.4v5.4h-5.4zM93.5 506.5h5.4v5.4h-5.4zM94.7 505.5h5.4v5.4h-5.4zM97.2 506.5h5.4v5.4h-5.4zM100.5 505.6h5.4v5.4h-5.4zM103.3 506.7h5.4v5.4h-5.4zM106.3 506.4h5.4v5.4h-5.4zM108.4 506.1h5.4v5.4h-5.4zM110.9 504.8h5.4v5.4h-5.4zM113.3 506.4h5.4v5.4h-5.4zM116.5 504.5h5.4v5.4h-5.4zM118.8 505.9h5.4v5.4h-5.4zM121.7 505.1h5.4v5.4h-5.4zM125.7 506.0h5.4v5.4h-5.4zM128.6 504.4h5.4v5.4h-5.4zM130.8 504.4h5.4v5.4h-5.4zM180.4 473.1h5.4v5.4h-5.4zM179.7 476.3h5.4v5.4h-5.4zM180.4 479.9h5.4v5.4h-5.4zM178.1 484.1h5.4v5.4h-5.4zM172.9 464.0h5.4v5.4h-5.4zM167.7 463.4h5.4v5.4h-5.4zM162.0 464.5h5.4v5.4h-5.4zM159.4 467.4h5.4v5.4h-5.4zM554.7 319.5h5.4v5.4h-5.4zM551.2 323.8h5.4v5.4h-5.4zM552.9 338.2h5.4v5.4h-5.4zM549.3 343.4h5.4v5.4h-5.4zM541.6 353.3h5.4v5.4h-5.4zM548.9 352.8h5.4v5.4h-5.4zM537.1 367.2h5.4v5.4h-5.4zM542.0 368.4h5.4v5.4h-5.4zM546.7 366.0h5.4v5.4h-5.4zM538.0 381.6h5.4v5.4h-5.4zM546.3 384.6h5.4v5.4h-5.4zM528.6 387.7h5.4v5.4h-5.4zM536.3 388.4h5.4v5.4h-5.4zM541.1 387.2h5.4v5.4h-5.4zM522.0 395.8h5.4v5.4h-5.4zM529.5 401.9h5.4v5.4h-5.4zM537.6 404.5h5.4v5.4h-5.4zM513.7 406.3h5.4v5.4h-5.4zM522.0 395.8h5.4v5.4h-5.4zM529.5 401.8h5.4v5.4h-5.4zM537.6 405.0h5.4v5.4h-5.4zM513.8 406.2h5.4v5.4h-5.4zM510.4 409.7h5.4v5.4h-5.4zM519.0 413.1h5.4v5.4h-5.4zM524.6 411.7h5.4v5.4h-5.4zM522.5 418.9h5.4v5.4h-5.4zM498.6 422.2h5.4v5.4h-5.4zM515.6 427.0h5.4v5.4h-5.4zM519.0 427.9h5.4v5.4h-5.4zM509.3 432.6h5.4v5.4h-5.4zM513.8 433.1h5.4v5.4h-5.4zM519.0 433.6h5.4v5.4h-5.4zM522.9 433.6h5.4v5.4h-5.4zM535.4 431.4h5.4v5.4h-5.4zM534.5 440.4h5.4v5.4h-5.4zM514.5 442.6h5.4v5.4h-5.4zM502.0 443.5h5.4v5.4h-5.4zM503.8 446.1h5.4v5.4h-5.4zM495.4 446.1h5.4v5.4h-5.4zM482.6 449.9h5.4v5.4h-5.4zM488.5 451.3h5.4v5.4h-5.4zM474.6 452.2h5.4v5.4h-5.4zM494.2 452.7h5.4v5.4h-5.4zM501.2 454.3h5.4v5.4h-5.4zM520.3 454.3h5.4v5.4h-5.4zM506.9 457.4h5.4v5.4h-5.4zM497.2 459.1h5.4v5.4h-5.4zM526.3 460.0h5.4v5.4h-5.4zM531.5 462.1h5.4v5.4h-5.4zM478.1 462.6h5.4v5.4h-5.4zM511.2 463.5h5.4v5.4h-5.4zM489.0 463.8h5.4v5.4h-5.4zM526.3 467.8h5.4v5.4h-5.4zM486.4 467.8h5.4v5.4h-5.4zM492.5 468.7h5.4v5.4h-5.4zM497.7 468.7h5.4v5.4h-5.4zM473.4 474.8h5.4v5.4h-5.4zM509.5 474.8h5.4v5.4h-5.4zM515.9 474.4h5.4v5.4h-5.4zM502.0 476.5h5.4v5.4h-5.4zM514.5 478.2h5.4v5.4h-5.4zM489.9 477.4h5.4v5.4h-5.4zM500.3 482.6h5.4v5.4h-5.4zM493.3 483.4h5.4v5.4h-5.4zM474.7 452.3h5.4v5.4h-5.4zM482.5 450.0h5.4v5.4h-5.4zM488.5 451.1h5.4v5.4h-5.4zM478.0 462.8h5.4v5.4h-5.4zM453.0 476.6h5.4v5.4h-5.4zM465.6 479.6h5.4v5.4h-5.4zM457.5 478.5h5.4v5.4h-5.4zM439.8 489.8h5.4v5.4h-5.4zM488.0 467.4h5.4v5.4h-5.4zM489.8 467.4h5.4v5.4h-5.4zM487.9 468.7h5.4v5.4h-5.4zM491.6 467.6h5.4v5.4h-5.4zM494.3 469.5h5.4v5.4h-5.4zM495.1 468.6h5.4v5.4h-5.4zM497.7 468.4h5.4v5.4h-5.4zM487.5 470.7h5.4v5.4h-5.4zM496.2 471.1h5.4v5.4h-5.4zM498.4 471.5h5.4v5.4h-5.4zM487.8 474.5h5.4v5.4h-5.4zM497.0 472.8h5.4v5.4h-5.4zM499.9 475.0h5.4v5.4h-5.4zM471.7 476.3h5.4v5.4h-5.4zM472.9 475.5h5.4v5.4h-5.4zM489.2 477.3h5.4v5.4h-5.4zM498.9 475.9h5.4v5.4h-5.4zM500.9 476.7h5.4v5.4h-5.4zM502.1 477.1h5.4v5.4h-5.4zM474.1 477.9h5.4v5.4h-5.4zM475.4 479.2h5.4v5.4h-5.4zM477.7 479.7h5.4v5.4h-5.4zM480.9 478.7h5.4v5.4h-5.4zM483.7 479.4h5.4v5.4h-5.4zM486.3 479.7h5.4v5.4h-5.4zM488.2 478.7h5.4v5.4h-5.4zM491.1 478.2h5.4v5.4h-5.4zM499.9 478.5h5.4v5.4h-5.4zM471.9 482.4h5.4v5.4h-5.4zM474.2 482.0h5.4v5.4h-5.4zM476.5 482.1h5.4v5.4h-5.4zM477.4 482.3h5.4v5.4h-5.4zM479.7 481.0h5.4v5.4h-5.4zM482.8 480.5h5.4v5.4h-5.4zM486.6 480.2h5.4v5.4h-5.4zM489.4 482.0h5.4v5.4h-5.4zM491.0 480.6h5.4v5.4h-5.4zM494.2 482.3h5.4v5.4h-5.4zM494.6 480.1h5.4v5.4h-5.4zM498.0 480.4h5.4v5.4h-5.4zM500.7 482.5h5.4v5.4h-5.4zM458.5 482.9h5.4v5.4h-5.4zM471.8 483.7h5.4v5.4h-5.4zM474.4 482.9h5.4v5.4h-5.4zM475.2 484.0h5.4v5.4h-5.4zM477.6 483.1h5.4v5.4h-5.4zM481.7 483.6h5.4v5.4h-5.4zM483.8 483.5h5.4v5.4h-5.4zM486.6 483.4h5.4v5.4h-5.4zM488.0 483.1h5.4v5.4h-5.4zM491.5 483.1h5.4v5.4h-5.4zM492.5 484.4h5.4v5.4h-5.4zM497.0 484.8h5.4v5.4h-5.4zM499.3 483.7h5.4v5.4h-5.4zM501.8 482.7h5.4v5.4h-5.4zM459.6 485.7h5.4v5.4h-5.4zM463.4 487.3h5.4v5.4h-5.4zM473.0 486.3h5.4v5.4h-5.4zM476.4 486.1h5.4v5.4h-5.4zM478.9 486.6h5.4v5.4h-5.4zM481.8 485.3h5.4v5.4h-5.4zM482.3 485.9h5.4v5.4h-5.4zM485.2 486.0h5.4v5.4h-5.4zM488.3 485.8h5.4v5.4h-5.4zM492.0 485.2h5.4v5.4h-5.4zM492.5 485.6h5.4v5.4h-5.4zM499.5 485.2h5.4v5.4h-5.4zM458.1 489.6h5.4v5.4h-5.4zM460.8 489.1h5.4v5.4h-5.4zM463.0 489.9h5.4v5.4h-5.4zM464.8 488.0h5.4v5.4h-5.4zM469.5 487.6h5.4v5.4h-5.4zM471.5 489.6h5.4v5.4h-5.4zM473.0 489.0h5.4v5.4h-5.4zM475.6 489.0h5.4v5.4h-5.4zM479.3 488.3h5.4v5.4h-5.4zM480.3 488.4h5.4v5.4h-5.4zM484.1 487.7h5.4v5.4h-5.4zM486.5 488.8h5.4v5.4h-5.4zM488.9 489.5h5.4v5.4h-5.4zM489.7 488.7h5.4v5.4h-5.4zM441.3 491.3h5.4v5.4h-5.4zM454.3 492.1h5.4v5.4h-5.4zM454.9 490.9h5.4v5.4h-5.4zM458.3 492.0h5.4v5.4h-5.4zM461.9 490.1h5.4v5.4h-5.4zM462.8 490.7h5.4v5.4h-5.4zM465.7 491.2h5.4v5.4h-5.4zM469.5 490.2h5.4v5.4h-5.4zM469.8 491.5h5.4v5.4h-5.4zM473.9 491.8h5.4v5.4h-5.4zM476.6 491.2h5.4v5.4h-5.4zM477.3 491.1h5.4v5.4h-5.4zM479.7 490.8h5.4v5.4h-5.4zM483.0 492.4h5.4v5.4h-5.4zM485.1 490.7h5.4v5.4h-5.4zM488.8 490.8h5.4v5.4h-5.4zM438.9 493.3h5.4v5.4h-5.4zM441.5 493.5h5.4v5.4h-5.4zM447.5 494.6h5.4v5.4h-5.4zM450.7 494.7h5.4v5.4h-5.4zM452.7 493.2h5.4v5.4h-5.4zM455.5 492.7h5.4v5.4h-5.4zM457.2 492.9h5.4v5.4h-5.4zM461.8 493.4h5.4v5.4h-5.4zM463.3 493.8h5.4v5.4h-5.4zM465.0 492.9h5.4v5.4h-5.4zM468.0 493.3h5.4v5.4h-5.4zM470.1 494.0h5.4v5.4h-5.4zM473.6 493.0h5.4v5.4h-5.4zM475.1 494.6h5.4v5.4h-5.4zM477.8 492.9h5.4v5.4h-5.4zM480.3 494.2h5.4v5.4h-5.4zM483.5 493.9h5.4v5.4h-5.4zM485.2 494.6h5.4v5.4h-5.4zM437.9 497.3h5.4v5.4h-5.4zM440.4 497.3h5.4v5.4h-5.4zM443.5 495.2h5.4v5.4h-5.4zM446.1 497.2h5.4v5.4h-5.4zM447.5 495.7h5.4v5.4h-5.4zM449.7 497.3h5.4v5.4h-5.4zM453.0 496.0h5.4v5.4h-5.4zM456.0 495.5h5.4v5.4h-5.4zM457.4 497.5h5.4v5.4h-5.4zM461.7 496.3h5.4v5.4h-5.4zM463.0 497.2h5.4v5.4h-5.4zM465.0 496.0h5.4v5.4h-5.4zM467.8 495.7h5.4v5.4h-5.4zM470.7 496.9h5.4v5.4h-5.4zM472.9 497.0h5.4v5.4h-5.4zM476.9 496.0h5.4v5.4h-5.4zM420.5 498.9h5.4v5.4h-5.4zM422.1 499.5h5.4v5.4h-5.4zM425.1 499.5h5.4v5.4h-5.4zM427.6 498.7h5.4v5.4h-5.4zM431.4 497.7h5.4v5.4h-5.4zM432.3 497.7h5.4v5.4h-5.4zM434.8 497.9h5.4v5.4h-5.4zM439.5 500.0h5.4v5.4h-5.4zM440.2 498.5h5.4v5.4h-5.4zM443.9 498.7h5.4v5.4h-5.4zM445.6 498.1h5.4v5.4h-5.4zM447.5 498.5h5.4v5.4h-5.4zM449.7 498.6h5.4v5.4h-5.4zM453.8 499.9h5.4v5.4h-5.4zM454.8 499.0h5.4v5.4h-5.4zM458.1 499.0h5.4v5.4h-5.4zM460.2 498.5h5.4v5.4h-5.4zM462.3 499.2h5.4v5.4h-5.4zM465.3 499.5h5.4v5.4h-5.4zM468.1 499.4h5.4v5.4h-5.4zM471.1 498.9h5.4v5.4h-5.4zM474.2 498.9h5.4v5.4h-5.4zM475.0 499.9h5.4v5.4h-5.4zM395.9 502.3h5.4v5.4h-5.4zM400.9 501.3h5.4v5.4h-5.4zM403.0 500.9h5.4v5.4h-5.4zM407.0 501.2h5.4v5.4h-5.4zM407.3 500.4h5.4v5.4h-5.4zM410.9 501.6h5.4v5.4h-5.4zM414.1 502.5h5.4v5.4h-5.4zM416.6 501.3h5.4v5.4h-5.4zM417.4 501.3h5.4v5.4h-5.4zM420.5 501.7h5.4v5.4h-5.4zM422.2 501.0h5.4v5.4h-5.4zM426.5 500.4h5.4v5.4h-5.4zM427.9 502.4h5.4v5.4h-5.4zM431.9 502.0h5.4v5.4h-5.4zM432.9 500.7h5.4v5.4h-5.4zM434.9 502.5h5.4v5.4h-5.4zM438.7 500.4h5.4v5.4h-5.4zM440.8 501.6h5.4v5.4h-5.4zM444.3 500.2h5.4v5.4h-5.4zM445.6 502.4h5.4v5.4h-5.4zM448.4 501.1h5.4v5.4h-5.4zM449.7 502.2h5.4v5.4h-5.4zM453.2 501.2h5.4v5.4h-5.4zM456.0 502.0h5.4v5.4h-5.4zM457.9 500.6h5.4v5.4h-5.4zM460.0 501.9h5.4v5.4h-5.4zM462.7 500.7h5.4v5.4h-5.4zM466.0 501.4h5.4v5.4h-5.4zM468.4 500.4h5.4v5.4h-5.4zM471.7 500.7h5.4v5.4h-5.4zM473.1 500.4h5.4v5.4h-5.4zM373.2 504.5h5.4v5.4h-5.4zM379.5 504.9h5.4v5.4h-5.4zM380.3 503.6h5.4v5.4h-5.4zM384.0 504.1h5.4v5.4h-5.4zM387.9 503.3h5.4v5.4h-5.4zM390.4 503.4h5.4v5.4h-5.4zM392.2 503.4h5.4v5.4h-5.4zM395.3 504.2h5.4v5.4h-5.4zM398.0 504.3h5.4v5.4h-5.4zM400.6 504.5h5.4v5.4h-5.4zM403.4 503.8h5.4v5.4h-5.4zM405.1 504.2h5.4v5.4h-5.4zM409.2 504.7h5.4v5.4h-5.4zM410.9 503.3h5.4v5.4h-5.4zM413.1 503.4h5.4v5.4h-5.4zM416.7 502.9h5.4v5.4h-5.4zM418.7 504.4h5.4v5.4h-5.4zM421.6 502.7h5.4v5.4h-5.4zM423.8 503.3h5.4v5.4h-5.4zM424.9 503.6h5.4v5.4h-5.4zM428.7 504.5h5.4v5.4h-5.4zM431.7 503.7h5.4v5.4h-5.4zM433.4 504.4h5.4v5.4h-5.4zM435.6 503.5h5.4v5.4h-5.4zM437.7 504.4h5.4v5.4h-5.4zM441.8 504.6h5.4v5.4h-5.4zM442.2 504.9h5.4v5.4h-5.4zM446.2 503.4h5.4v5.4h-5.4zM448.5 504.8h5.4v5.4h-5.4zM449.9 503.3h5.4v5.4h-5.4zM454.1 504.9h5.4v5.4h-5.4zM456.0 504.0h5.4v5.4h-5.4zM458.2 504.7h5.4v5.4h-5.4zM461.6 503.7h5.4v5.4h-5.4zM464.2 503.1h5.4v5.4h-5.4zM466.6 502.6h5.4v5.4h-5.4zM467.4 503.6h5.4v5.4h-5.4zM372.7 506.0h5.4v5.4h-5.4zM376.8 505.9h5.4v5.4h-5.4zM377.3 506.5h5.4v5.4h-5.4zM379.7 505.3h5.4v5.4h-5.4zM383.9 505.4h5.4v5.4h-5.4zM384.6 506.4h5.4v5.4h-5.4zM387.5 506.3h5.4v5.4h-5.4zM389.8 505.4h5.4v5.4h-5.4zM393.0 506.5h5.4v5.4h-5.4zM395.4 505.5h5.4v5.4h-5.4zM399.3 507.3h5.4v5.4h-5.4zM399.9 507.4h5.4v5.4h-5.4zM403.1 506.9h5.4v5.4h-5.4zM406.9 506.7h5.4v5.4h-5.4zM408.1 505.1h5.4v5.4h-5.4zM411.4 505.4h5.4v5.4h-5.4zM414.0 505.9h5.4v5.4h-5.4zM414.7 506.4h5.4v5.4h-5.4zM419.3 507.2h5.4v5.4h-5.4zM422.0 505.6h5.4v5.4h-5.4zM423.7 506.1h5.4v5.4h-5.4zM426.7 506.9h5.4v5.4h-5.4zM427.3 507.2h5.4v5.4h-5.4zM431.0 506.0h5.4v5.4h-5.4zM432.7 507.0h5.4v5.4h-5.4zM436.6 506.1h5.4v5.4h-5.4zM437.8 505.2h5.4v5.4h-5.4zM440.6 505.6h5.4v5.4h-5.4zM443.1 505.2h5.4v5.4h-5.4zM445.7 506.6h5.4v5.4h-5.4zM447.6 505.9h5.4v5.4h-5.4zM439.8 491.6h5.4v5.4h-5.4zM454.5 489.0h5.4v5.4h-5.4zM458.5 482.3h5.4v5.4h-5.4zM458.5 486.0h5.4v5.4h-5.4zM472.8 477.0h5.4v5.4h-5.4zM488.1 465.0h5.4v5.4h-5.4zM492.3 464.3h5.4v5.4h-5.4zM497.5 469.5h5.4v5.4h-5.4zM502.8 477.0h5.4v5.4h-5.4zM499.8 483.8h5.4v5.4h-5.4zM490.8 488.3h5.4v5.4h-5.4zM484.8 495.0h5.4v5.4h-5.4zM480.3 498.0h5.4v5.4h-5.4zM477.3 500.3h5.4v5.4h-5.4z" fill="#000"/>
</svg>
</body></html>
